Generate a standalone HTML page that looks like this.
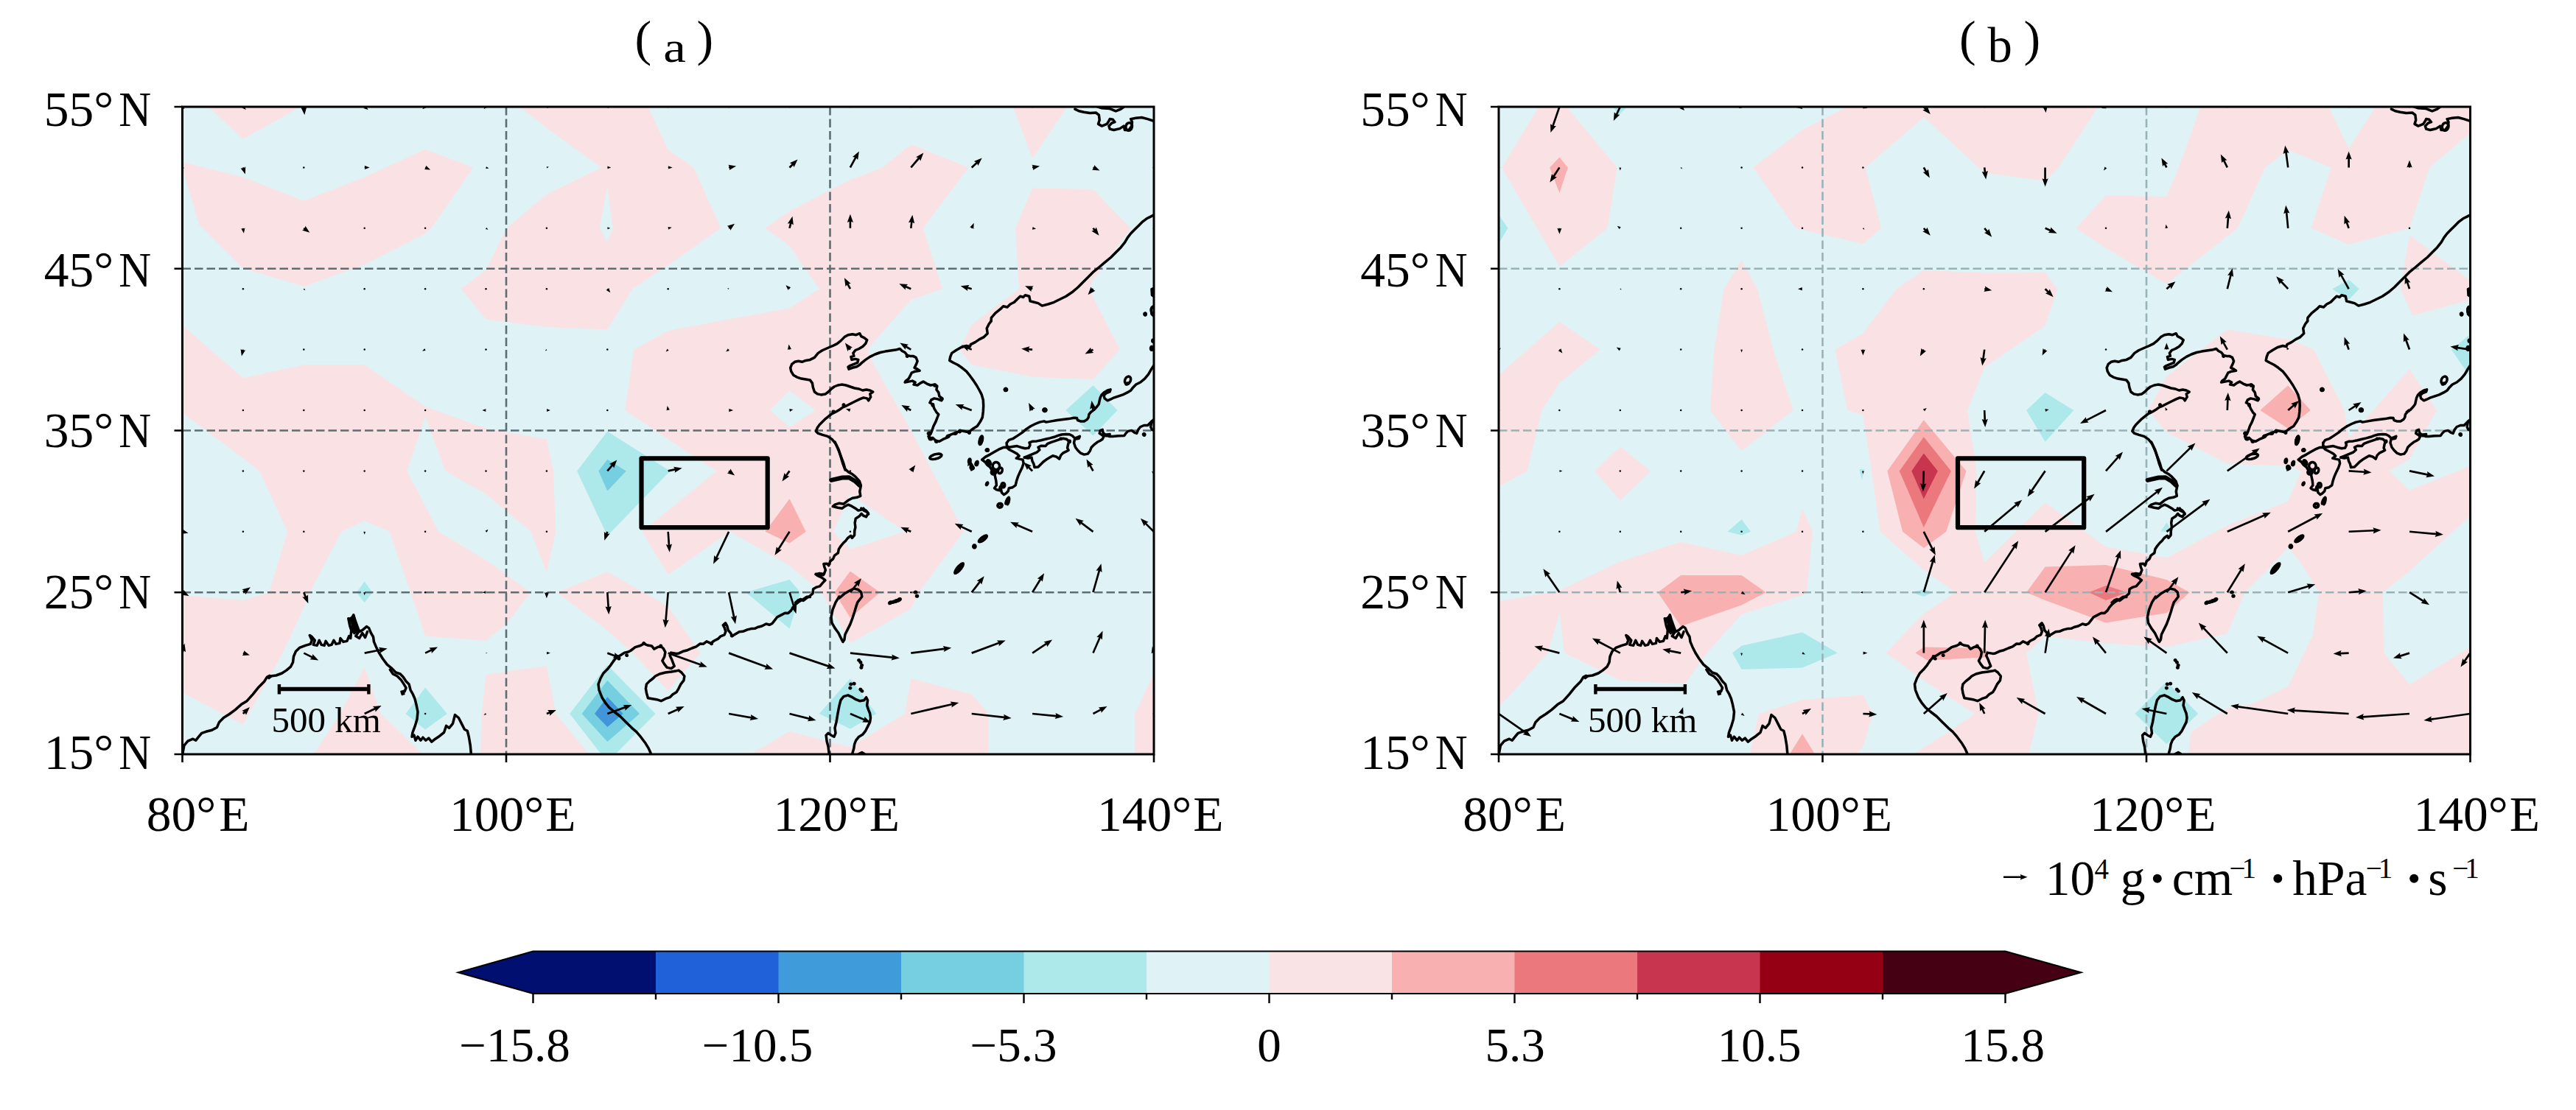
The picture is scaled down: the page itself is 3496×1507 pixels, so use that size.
<!DOCTYPE html>
<html><head><meta charset="utf-8"><title>fig</title>
<style>
html,body{margin:0;padding:0;background:#fff;}
svg{display:block;}
text{font-family:"Liberation Serif",serif;fill:#000;}
</style></head><body>
<svg width="3496" height="1507" viewBox="0 0 3496 1507">
<rect width="3496" height="1507" fill="#fff"/>
<clipPath id="clipa"><rect x="247.5" y="145.0" width="1318.5" height="879.0"/></clipPath>
<g clip-path="url(#clipa)">
<rect x="247.5" y="145.0" width="1318.5" height="879.0" fill="#dff2f6"/>
<path d="M282.9 145.0L329.9 188.7L408.2 145.0Z" fill="#fae2e4"/>
<path d="M247.5 220.0L329.9 240.6L412.3 272.7L494.7 240.6L577.1 202.7L642.2 227.4L585.3 309.8L577.1 317.2L494.7 359.2L412.3 388.9L329.9 364.2L270.6 305.7L247.5 229.0Z" fill="#fae2e4"/>
<path d="M247.5 441.6L329.9 513.3L412.3 495.2L494.7 495.2L577.1 552.1L659.5 581.7L741.9 596.6L751.0 639.4L754.3 721.8L741.9 777.0L720.5 721.8L659.5 670.7L604.3 639.4L577.1 565.2L552.4 639.4L595.2 721.8L659.5 760.5L720.5 804.2L687.5 847.0L659.5 870.1L577.1 863.5L557.3 804.2L528.5 721.8L494.7 707.0L463.4 721.8L420.5 804.2L412.3 824.8L383.5 886.6L329.9 983.8L247.5 940.2L247.5 808.3L329.9 814.9L365.3 804.2L390.1 721.8L352.1 639.4L329.9 622.1L247.5 560.3Z" fill="#fae2e4"/>
<path d="M494.7 905.6L516.9 969.0L573.8 1024.2L425.5 1024.2L461.7 969.0Z" fill="#fae2e4"/>
<path d="M659.5 915.4L741.9 903.9L754.3 969.0L799.6 1024.2L652.1 1024.2L653.7 969.0Z" fill="#fae2e4"/>
<path d="M824.3 776.2L906.7 823.2L950.4 886.6L906.7 937.7L858.9 886.6L824.3 856.1L755.5 804.2Z" fill="#fae2e4"/>
<path d="M1017.9 1024.2L1071.5 992.9L1153.9 1014.3L1228.1 969.0L1236.3 921.2L1318.7 942.6L1341.8 969.0L1341.8 1024.2Z" fill="#fae2e4"/>
<path d="M1565.9 913.8L1540.4 969.0L1540.4 1024.2L1565.9 1024.2Z" fill="#fae2e4"/>
<path d="M705.6 145.0L879.5 145.0L906.7 203.5L941.3 227.4L978.4 309.8L906.7 360.1L858.1 392.2L824.3 447.4L741.9 444.1L659.5 433.4L625.7 392.2L659.5 366.7L687.5 309.8L741.9 263.7L816.1 227.4L741.9 173.8Z" fill="#fae2e4"/>
<path d="M824.3 253.8L831.7 309.8L824.3 328.8L813.6 309.8Z" fill="#dff2f6"/>
<path d="M860.6 474.6L906.7 449.1L989.1 433.4L1071.5 418.6L1111.9 392.2L1071.5 333.7L1038.5 309.8L1071.5 286.7L1153.9 243.9L1197.6 227.4L1236.3 196.1L1314.6 227.4L1252.8 309.8L1279.1 392.2L1236.3 407.0L1177.0 474.6L1186.9 496.8L1236.3 584.2L1265.1 639.4L1308.0 721.8L1247.0 804.2L1236.3 826.4L1153.9 873.4L1115.2 804.2L1071.5 767.9L990.7 721.8L906.7 780.3L871.3 721.8L906.7 693.0L972.6 639.4L906.7 596.6L848.2 557.0Z" fill="#fae2e4"/>
<path d="M1153.9 670.7L1228.1 721.8L1153.9 745.7L1130.8 721.8Z" fill="#dff2f6"/>
<path d="M1071.5 530.6L1106.9 557.0L1071.5 580.1L1045.1 557.0Z" fill="#dff2f6"/>
<path d="M1071.5 677.3L1093.7 721.8L1071.5 737.5L1038.5 721.8Z" fill="#f8b1b0"/>
<path d="M1153.9 775.4L1194.3 804.2L1153.9 838.8L1132.5 804.2Z" fill="#f8b1b0"/>
<path d="M1401.1 255.4L1483.5 257.1L1534.6 309.8L1483.5 380.7L1477.7 392.2L1483.5 403.7L1519.8 474.6L1483.5 515.0L1401.1 511.7L1318.7 495.2L1302.2 474.6L1318.7 440.8L1383.0 392.2L1378.0 309.8Z" fill="#fae2e4"/>
<path d="M1374.7 145.0L1401.1 215.0L1448.1 145.0Z" fill="#fae2e4"/>
<path d="M824.3 585.8L909.2 639.4L824.3 727.6L783.1 639.4Z" fill="#ade8eb"/>
<path d="M824.3 623.7L849.8 639.4L824.3 666.6L812.4 639.4Z" fill="#75cfe0"/>
<path d="M1071.5 786.9L1086.3 804.2L1071.5 853.6L1012.2 804.2Z" fill="#ade8eb"/>
<path d="M1153.9 921.2L1189.3 969.0L1153.9 989.6L1111.9 969.0Z" fill="#ade8eb"/>
<path d="M824.3 903.1L889.4 969.0L824.3 1034.9L773.2 969.0Z" fill="#ade8eb"/>
<path d="M824.3 923.7L868.0 969.0L824.3 1006.9L789.7 969.0Z" fill="#75cfe0"/>
<path d="M824.3 945.9L845.7 969.0L824.3 987.1L807.0 969.0Z" fill="#4295d9"/>
<path d="M577.1 933.6L606.8 969.0L577.1 990.4L550.7 969.0Z" fill="#ade8eb"/>
<path d="M1483.5 523.2L1516.5 557.0L1483.5 591.6L1446.4 557.0Z" fill="#ade8eb"/>
<path d="M494.7 789.4L505.4 804.2L494.7 818.2L484.0 804.2Z" fill="#ade8eb"/>
<path d="M687.0 145.0V1024.0M1126.5 145.0V1024.0M247.5 804.2H1566.0M247.5 584.5H1566.0M247.5 364.8H1566.0" stroke="#5b6e74" stroke-width="2.6" stroke-dasharray="11.5 5" fill="none"/>
<g transform="translate(0.0,0)" fill="none" stroke="#000" stroke-width="3.5" stroke-linejoin="round" stroke-linecap="round">
<path d="M247.9 1023.0L249.9 1012.1L254.9 1006.2L261.8 1003.2L265.8 1005.2L269.7 1000.2L273.7 995.3L279.6 993.3L287.6 991.3L294.5 987.4L297.5 980.4L303.4 974.5L311.3 969.5L319.3 963.6L327.2 956.6L335.1 951.7L343.0 942.8L351.0 932.9L358.9 924.9L361.9 920.0L366.8 918.0L374.7 917.0L382.7 914.0L388.6 910.1L394.6 905.1L397.5 899.2L398.5 891.2L401.5 884.3L406.5 879.4L414.4 876.4L421.3 874.4L423.3 869.4L420.3 862.5L423.3 864.5L427.3 869.4L425.3 875.4L430.2 876.4L433.2 869.4L436.2 875.4L440.1 876.4L442.1 870.4L446.1 876.4L450.0 875.4L453.0 869.4L456.0 874.4L460.9 873.4L461.9 866.5L465.9 871.4L470.9 870.4L473.8 863.5L475.8 866.5L476.8 855.6L474.8 849.6L472.8 839.7L476.8 840.7L479.8 834.8L481.8 841.7L484.7 849.6L487.7 857.6L491.7 855.6L497.6 850.6L500.6 852.6L503.5 859.5L506.5 864.5L507.5 871.4L510.5 878.4L514.4 886.3L519.4 894.2L525.3 902.1L531.3 907.1L537.2 913.0L543.2 915.0L547.1 919.0L551.1 924.9L555.1 928.9L557.1 936.8L560.0 941.8L563.0 948.7L565.0 956.6L567.0 966.5L566.0 976.5L563.0 986.4L560.0 994.3L559.0 1000.2L562.0 998.2L564.0 1005.2L567.0 1000.2L570.9 1005.2L573.9 1001.2L577.9 1005.2L581.8 1002.2L585.8 1007.2L590.7 1003.2L596.7 999.2L602.6 994.3L605.6 985.4L609.6 988.3L614.5 982.4L617.5 970.5L622.4 974.5L626.4 982.4L630.4 990.3L634.3 992.3L636.3 1000.2L638.3 1012.1L639.3 1023.0"/>
<path d="M477.8 843.7L480.8 852.6L485.7 859.5L482.7 863.5L487.7 866.5L491.7 859.5L495.6 865.5L498.6 857.6"/>
<path d="M529.3 909.1L533.3 915.0L539.2 918.0L544.2 922.9L548.1 928.9L551.1 933.8L549.1 938.8"/>
<path d="M832.8 897.2L836.4 892.9L842.7 889.3L847.5 886.1L851.8 885.3L855.7 883.5L862.1 878.6L869.2 876.5L873.9 873.9L878.6 876.0L884.4 876.9L887.7 881.1L893.2 878.3L897.3 878.0L900.2 880.3L902.9 885.4L901.8 891.5L898.9 897.1L901.6 901.6L905.1 906.1L911.0 907.6L915.2 904.4L913.2 899.3L911.5 894.9L909.2 890.2L910.7 886.1L918.2 887.4L921.4 886.9L926.9 884.3L933.0 882.7L939.1 880.0L944.9 877.8L950.2 874.0L954.7 874.2L959.0 870.8L964.6 873.3L969.1 870.0L974.8 867.1L978.1 863.8L983.1 861.9L984.9 857.4L983.2 852.1L981.3 848.7L984.6 845.8L986.7 849.5L988.3 855.6L991.5 859.4L993.6 863.4L998.3 860.7L1003.3 857.7L1008.3 857.3L1014.2 854.9L1020.3 853.4L1024.4 853.3L1028.2 851.5L1034.0 850.0L1039.7 847.0L1044.2 848.3L1048.0 846.5L1051.4 842.2L1054.8 837.8L1059.9 835.1L1065.4 832.3L1069.7 832.4L1073.6 828.9L1076.2 824.6L1079.9 820.3L1085.0 816.4L1089.9 813.8L1095.1 810.2L1099.4 810.6"/>
<path d="M883.3 1023.0L880.3 1016.1L875.4 1008.2L869.4 1000.2L863.5 993.3L857.6 988.3L849.6 980.4L841.7 972.5L833.8 966.5L826.8 960.6L821.9 954.7L816.9 946.7L813.0 936.8L812.0 928.9L815.0 921.0L818.9 914.0L823.9 909.1L828.8 903.1L832.8 897.2"/>
<path d="M889.3 918.0L895.2 915.0L903.1 913.0L911.1 912.1L917.0 911.1L921.0 910.1L924.9 913.0L928.9 918.0L927.9 923.9L923.9 928.9L921.0 934.8L918.0 939.8L913.0 942.8L909.1 946.7L903.1 948.7L897.2 951.7L891.2 949.7L885.3 948.7L879.4 947.7L877.4 940.8L876.4 934.8L877.4 928.9L881.3 924.9L886.3 921.0L889.3 918.0"/>
<path d="M1125.1 1023.0L1124.1 1014.1L1122.1 1006.2L1121.1 998.2L1124.1 995.3L1128.0 998.2L1132.0 1000.2L1134.0 995.3L1133.0 988.3L1135.0 980.4L1137.0 968.5L1138.9 958.6L1140.9 950.7L1144.9 945.7L1150.8 943.8L1156.8 946.7L1161.7 949.7L1166.7 951.7L1172.6 950.7L1175.6 946.7L1177.6 950.7L1176.6 957.6L1178.6 963.6L1180.6 968.5L1181.5 974.5L1180.6 980.4L1177.6 986.4L1174.6 992.3L1170.6 997.3L1165.7 1000.2L1161.7 1005.2L1159.7 1010.1L1158.8 1016.1L1156.8 1023.0"/>
<path d="M1165.7 1023.6L1169.7 1021.6L1173.0 1023.6"/>
<path d="M1079.6 818.0L1082.8 815.2L1086.8 813.4L1090.3 815.5L1095.1 811.6L1098.7 809.5L1103.0 805.7L1103.6 799.8L1108.3 797.1L1112.7 795.9L1116.5 791.4L1119.9 787.7L1114.8 783.8L1109.3 781.4L1107.0 779.7L1112.3 778.4L1118.2 779.5L1120.4 773.9L1118.8 769.6L1117.9 765.6L1122.4 765.2L1124.8 767.8L1126.6 762.2L1130.6 758.9L1132.6 754.1L1137.3 750.8L1138.4 745.4L1141.3 741.1L1144.7 737.0L1147.7 734.2L1150.5 730.5L1154.7 727.4L1156.4 730.3L1159.6 726.5L1159.8 720.7L1160.9 715.9L1160.2 709.9L1161.3 703.9L1166.4 700.7L1169.1 697.4L1171.3 699.8L1175.4 701.7L1178.4 696.9L1175.5 693.3L1171.4 690.7"/>
<path d="M1171.8 690.2L1168.8 692.1L1164.8 693.1L1160.9 690.2L1155.9 687.2L1151.0 685.2L1147.0 687.2L1143.0 690.2L1137.1 689.2L1130.2 687.6L1133.1 685.2L1139.1 683.2L1145.0 684.2L1151.0 679.3L1156.9 676.3L1162.9 675.3L1167.8 673.3L1166.8 667.4L1168.4 659.4L1166.4 653.1L1160.9 647.2L1155.9 643.2L1151.0 640.6L1147.0 636.7L1145.0 629.7L1142.1 621.8L1139.1 613.9L1136.1 606.9L1133.1 600.0"/>
<path d="M1168.8 690.2L1172.4 693.1L1176.7 695.1L1178.7 698.1"/>
<path d="M1107.4 779.3L1111.3 780.7L1117.3 780.7"/>
<path d="M1163.7 817.9L1161.7 823.9L1159.7 830.8L1156.8 839.7L1153.8 847.6L1149.8 855.6L1146.9 861.5L1145.9 868.5L1143.9 871.4L1140.9 865.5L1138.0 859.5L1133.0 852.6L1129.0 845.7L1128.0 837.7L1130.0 827.8L1134.0 817.9L1138.9 810.0L1139.1 812.0L1146.0 806.1L1152.9 802.1L1158.9 799.1L1164.8 800.5L1168.8 804.1L1169.8 810.0L1163.7 817.9"/>
<path d="M1277.9 617.7L1277.5 619.2L1275.5 620.9L1272.5 622.3L1268.9 623.3L1265.5 623.6L1263.0 623.1L1261.8 622.0L1262.3 620.4L1264.2 618.8L1267.3 617.3L1270.9 616.4L1274.2 616.1L1276.7 616.5L1277.9 617.7"/>
<path d="M1359.0 686.4L1358.8 687.5L1358.1 688.4L1357.0 688.9L1355.9 688.9L1354.9 688.4L1354.1 687.5L1353.9 686.4L1354.1 685.3L1354.9 684.4L1355.9 683.9L1357.0 683.9L1358.1 684.4L1358.8 685.3L1359.0 686.4"/>
<path d="M1147.0 638.0L1144.0 630.0L1141.1 620.1L1138.1 610.2L1134.1 602.3L1129.2 596.4L1123.2 592.4L1116.3 590.4L1110.3 588.4L1107.4 585.5L1109.4 580.5L1112.3 576.5L1116.3 572.6L1120.3 568.6L1125.2 564.7L1129.2 561.7L1135.1 558.7L1140.1 555.7L1144.0 552.8L1149.0 550.8L1154.9 547.8L1160.9 544.8L1166.8 541.9L1171.8 539.9L1176.7 540.9L1178.7 543.8L1181.7 538.9L1180.7 534.9L1184.7 532.0L1180.7 530.0L1175.7 529.0L1170.8 530.0L1165.8 528.0L1159.9 527.0L1153.9 525.0L1148.0 523.0L1142.1 522.1L1137.1 523.0L1132.1 525.0L1128.2 528.0L1124.2 532.0L1120.3 534.9L1114.3 535.9L1109.4 534.9L1105.4 532.0L1103.4 526.0L1102.4 520.1L1099.4 516.1L1093.5 515.1L1087.6 514.1L1081.6 512.1L1076.7 509.2L1073.7 504.2L1072.7 499.3L1074.7 494.3L1078.6 491.3L1083.6 490.3L1088.5 491.3L1093.5 489.4L1099.4 488.4L1105.4 485.4L1110.3 479.4L1116.3 475.5L1123.2 472.5L1130.2 469.5L1136.1 466.6L1141.1 462.6L1146.0 457.6L1151.0 454.7L1156.9 453.7L1161.9 454.7L1166.8 452.7L1168.8 456.7L1172.8 458.6L1176.7 461.6L1174.7 466.6L1170.8 470.5L1165.8 473.5L1160.9 475.5L1157.9 479.4L1158.9 483.4L1154.9 484.4L1155.9 488.4L1160.9 487.4L1164.8 488.4L1163.8 492.3L1158.9 494.3L1153.9 496.3L1151.0 498.3L1152.0 501.2L1156.9 499.3L1162.9 497.7L1166.8 495.3L1169.8 492.3L1174.7 488.4L1180.7 484.4L1187.6 481.0L1194.6 478.5L1201.5 477.1L1208.4 476.1L1215.4 475.1L1221.3 473.5L1224.3 476.5L1228.2 478.5L1231.2 482.4L1235.2 483.4L1239.1 483.4L1243.1 485.4L1245.1 490.3L1243.1 495.3L1241.1 499.3L1245.1 501.2L1248.1 503.2L1242.1 504.2L1237.2 506.2L1235.2 510.2L1233.2 514.1L1229.2 517.1L1228.2 519.1L1233.2 518.1L1238.2 517.1L1242.1 519.1L1240.1 522.1L1245.1 523.0L1249.1 520.1L1253.0 518.1L1258.0 521.1L1262.9 523.0L1267.9 522.1L1271.8 524.0L1270.9 529.0L1273.8 532.9L1274.8 537.9L1278.8 540.9L1277.8 543.8L1272.8 541.9L1267.9 540.9L1263.9 542.9L1261.9 546.8L1265.9 548.8L1267.9 554.7L1270.9 559.7L1273.8 562.7L1271.8 567.6L1269.9 572.6L1266.9 578.5L1264.9 584.5L1262.9 589.4L1260.0 592.4L1261.9 596.4L1265.9 594.4L1269.9 598.3L1274.8 599.3L1279.8 596.4L1284.7 594.4L1289.7 590.4L1294.6 588.4L1299.6 586.5L1303.5 584.5L1308.5 585.5L1313.5 586.5L1317.4 584.5L1321.4 581.5L1326.3 578.5L1330.3 572.6L1333.3 566.6L1334.3 558.7L1334.7 550.8L1334.3 542.9L1332.3 535.9L1329.3 530.0L1325.3 523.0L1321.4 517.1L1316.4 510.2L1311.5 504.2L1305.5 499.3L1299.6 495.3L1293.6 492.3L1288.7 489.4L1289.7 484.4L1291.7 479.4L1297.6 475.5L1304.5 471.5L1311.5 469.5L1316.4 470.5L1317.4 467.6L1323.4 464.6L1329.3 460.6L1335.3 457.6L1340.2 452.7L1339.2 445.8L1342.2 439.8L1345.2 435.9"/>
<path d="M1366.3 601.3L1369.3 597.3L1375.2 595.3L1381.2 591.4L1387.1 587.4L1393.1 582.4L1399.0 578.5L1405.0 575.5L1410.9 573.1L1416.9 571.9L1419.8 573.1L1426.8 571.9L1434.7 570.5L1442.6 569.6L1450.6 568.6L1457.5 567.2L1461.5 567.6L1462.5 570.5L1466.4 571.9L1471.4 571.9L1475.3 569.6L1477.3 566.6L1477.9 562.6L1480.3 559.6L1484.3 556.7L1488.2 552.7L1491.2 548.7L1492.2 543.8L1493.2 539.8L1495.2 535.9L1498.1 532.9L1503.1 529.9L1507.1 528.9L1506.1 531.9L1501.1 533.9L1498.1 536.8L1499.1 540.8L1503.1 543.8L1507.1 542.2L1512.0 539.8L1518.0 537.8L1523.9 535.9L1529.9 532.9L1534.8 529.9L1537.8 525.9L1541.7 522.0L1547.7 519.0L1553.6 514.1L1558.6 508.1L1562.6 501.2L1565.9 496.2"/>
<path d="M1366.3 601.3L1366.3 605.2L1369.3 607.2L1375.2 606.2L1380.2 605.6L1385.1 607.2L1391.1 608.8L1396.0 608.2L1398.0 604.2L1397.0 600.9L1401.0 599.3L1407.0 598.9L1412.9 597.7L1418.8 596.3L1424.8 594.9L1430.7 593.3L1435.7 591.4L1440.7 590.0L1446.6 589.4L1451.6 589.8L1455.5 591.8L1458.5 594.9L1462.5 593.7L1465.4 592.4L1464.4 595.3L1458.5 596.3L1457.5 601.3L1459.5 607.2L1462.5 611.2L1466.4 615.1L1471.4 617.1L1476.3 616.1L1479.3 612.2L1481.3 607.2L1485.3 603.3L1489.2 600.3L1493.2 598.3L1496.2 596.3L1498.1 592.4L1495.2 590.4L1492.2 588.4L1493.2 584.4L1496.2 583.4L1497.1 587.4L1500.1 590.4L1506.1 589.4L1505.1 592.4L1510.0 592.4L1518.0 591.8L1525.9 591.4L1527.9 588.4L1530.8 585.4L1535.8 584.4L1539.8 587.4L1542.7 588.4L1544.7 583.4L1547.7 579.5L1552.6 577.5L1557.6 577.5L1560.6 574.5L1563.5 571.5L1565.9 569.6"/>
<path d="M1565.9 570.5L1562.6 574.5L1561.6 579.5L1563.5 583.4L1565.9 584.4"/>
<path d="M1390.1 621.1L1395.1 619.1L1401.0 616.7L1407.0 614.2L1410.9 610.8L1408.9 607.2L1412.9 605.2L1418.8 605.6L1421.8 602.3L1426.8 600.3L1432.7 598.3L1438.7 596.3L1442.6 595.3L1447.6 596.3L1450.6 599.3L1449.6 603.3L1448.6 608.2L1450.2 611.2L1446.6 613.2L1442.6 615.1L1439.7 618.1L1437.7 623.1L1433.7 620.1L1428.8 618.7L1424.8 621.1L1419.8 624.1L1415.9 627.0L1411.9 631.0L1408.9 634.0L1404.0 634.6L1403.0 630.0L1401.0 626.0L1400.0 621.1L1395.1 622.1L1390.1 621.1"/>
<path d="M1332.6 624.1L1337.6 620.1L1343.5 617.1L1349.5 613.6L1355.4 610.2L1361.4 607.6L1366.3 607.2L1369.3 610.2L1375.2 613.2L1380.2 616.1L1383.2 619.1L1379.2 622.1L1383.2 623.1L1388.1 624.1L1389.1 629.0L1387.1 635.0L1384.2 640.9L1381.6 646.9L1379.6 652.8L1378.2 658.8L1374.2 661.7L1369.3 662.7L1368.3 666.7L1365.3 669.7L1362.4 671.6L1359.4 668.7L1358.4 663.7L1360.4 658.8L1357.4 660.7L1356.4 665.7L1352.4 664.7L1349.5 662.7L1352.4 658.8L1351.8 652.8L1350.5 646.9L1349.5 641.9L1346.5 638.9L1343.5 634.0L1339.6 631.0L1336.6 627.0L1332.6 624.1"/>
<path d="M1356.6 632.6L1356.1 634.8L1354.8 636.6L1352.9 637.6L1350.8 637.6L1348.9 636.6L1347.6 634.8L1347.1 632.6L1347.6 630.4L1348.9 628.6L1350.8 627.6L1352.9 627.6L1354.8 628.6L1356.1 630.4L1356.6 632.6"/>
<path d="M1351.6 641.3L1351.3 642.5L1350.5 643.5L1349.2 644.0L1347.8 644.0L1346.5 643.5L1345.6 642.5L1345.3 641.3L1345.6 640.1L1346.5 639.1L1347.8 638.6L1349.2 638.6L1350.5 639.1L1351.3 640.1L1351.6 641.3"/>
<path d="M1360.0 639.9L1359.2 641.4L1358.0 642.4L1356.7 642.8L1355.5 642.4L1354.7 641.3L1354.5 639.7L1354.8 638.0L1355.6 636.5L1356.8 635.4L1358.1 635.1L1359.3 635.5L1360.1 636.6L1360.3 638.2L1360.0 639.9"/>
<path d="M1363.7 658.8L1363.5 660.1L1362.8 661.2L1361.9 661.8L1360.8 661.8L1359.9 661.2L1359.2 660.1L1359.0 658.8L1359.2 657.4L1359.9 656.3L1360.8 655.7L1361.9 655.7L1362.8 656.3L1363.5 657.4L1363.7 658.8"/>
<path d="M1360.2 686.1L1359.9 687.3L1359.1 688.3L1358.0 688.8L1356.8 688.8L1355.7 688.3L1354.9 687.3L1354.6 686.1L1354.9 684.9L1355.7 683.9L1356.8 683.4L1358.0 683.4L1359.1 683.9L1359.9 684.9L1360.2 686.1"/>
<path d="M1345.1 435.9L1345.4 431.4L1350.8 425.1L1357.6 419.7L1361.6 415.7L1367.0 417.0L1371.1 413.0L1376.5 410.3L1380.5 406.2L1384.6 402.2L1388.6 403.5L1391.4 400.8L1396.8 402.2L1398.1 408.9L1403.5 410.3L1408.9 411.6L1414.3 415.1L1422.4 413.0L1430.5 410.3L1438.6 406.2L1446.8 402.2L1454.9 396.8L1463.0 390.0L1469.7 383.2L1476.5 376.5L1483.2 369.7L1491.4 363.0L1499.5 356.2L1507.6 349.5L1514.3 342.7L1521.1 335.9L1526.5 329.2L1530.5 322.4L1534.6 317.0L1540.0 311.6L1545.4 306.2L1550.8 300.8L1556.2 296.8L1561.6 294.1L1565.9 291.9"/>
<path d="M1458.9 148.1L1464.3 150.8L1471.1 152.2L1479.2 153.5L1487.3 153.0L1491.4 156.2L1492.2 163.0L1490.5 168.4L1495.4 171.1L1502.2 168.4L1504.9 164.3L1506.2 161.6L1510.3 162.2L1513.0 165.7L1508.9 167.0L1504.9 171.1L1506.2 175.1L1511.6 176.5L1519.7 174.6L1525.1 171.1L1526.5 176.5L1531.9 176.5L1535.9 171.1L1536.5 165.7L1534.6 161.6L1541.4 160.3L1549.5 159.5L1557.6 161.6L1565.9 164.3"/>
<path d="M1484.6 143.2L1495.4 146.8L1506.2 147.6L1514.3 150.8L1521.1 148.1L1526.5 144.1"/>
<path d="M1536.3 173.0L1535.3 175.2L1533.7 176.7L1531.7 177.2L1529.9 176.7L1528.5 175.3L1527.8 173.1L1528.0 170.8L1529.0 168.6L1530.7 167.1L1532.6 166.6L1534.5 167.1L1535.9 168.5L1536.5 170.6L1536.3 173.0"/>
<path d="M1565.9 391.4L1563.0 392.7L1563.5 400.8L1565.9 402.2"/>
<path d="M1565.9 415.7L1562.4 419.7L1563.0 426.5L1565.9 429.2"/>
<path d="M1534.0 517.8L1532.6 519.8L1530.9 521.0L1529.1 521.3L1527.6 520.6L1526.6 519.0L1526.5 516.9L1527.1 514.6L1528.4 512.6L1530.2 511.4L1532.0 511.1L1533.5 511.8L1534.5 513.4L1534.6 515.5L1534.0 517.8"/>
<path d="M1567.6 421.1L1567.3 423.2L1566.5 424.9L1565.5 425.8L1564.3 425.8L1563.2 424.9L1562.4 423.2L1562.2 421.1L1562.4 419.0L1563.2 417.3L1564.3 416.3L1565.5 416.3L1566.5 417.3L1567.3 419.0L1567.6 421.1"/>
<path d="M1128.2 651.9L1143.0 648.5L1152.0 648.2L1160.9 653.5L1166.8 659.1" stroke-width="6"/>
</g>
<g transform="translate(0.0,0)" fill="#000" stroke="#000" stroke-width="2" stroke-linejoin="round">
<path d="M474.4 839.7L480.2 835.4L482.7 844.7L486.7 856.6L480.8 860.5L476.8 855.6L477.4 847.6Z"/>
<path d="M361.9 918.6L365.8 916.6L368.4 918.6L364.8 921.4Z"/>
<path d="M544.2 938.8L547.5 937.8L548.7 942.4L545.6 943.2Z"/>
<path d="M1156.3 929.4L1155.9 929.9L1155.4 930.3L1154.7 930.3L1154.0 930.0L1153.5 929.6L1153.2 929.0L1153.3 928.4L1153.7 927.8L1154.2 927.5L1154.9 927.5L1155.6 927.7L1156.1 928.2L1156.3 928.8L1156.3 929.4Z"/>
<path d="M1160.6 928.6L1160.3 929.2L1159.7 929.5L1159.0 929.5L1158.4 929.3L1157.9 928.8L1157.6 928.2L1157.7 927.6L1158.0 927.0L1158.6 926.7L1159.3 926.7L1159.9 927.0L1160.5 927.4L1160.7 928.0L1160.6 928.6Z"/>
<path d="M1155.3 934.6L1154.9 935.1L1154.4 935.4L1153.7 935.4L1153.0 935.2L1152.5 934.7L1152.3 934.1L1152.3 933.5L1152.7 933.0L1153.2 932.7L1153.9 932.7L1154.6 932.9L1155.1 933.4L1155.4 934.0L1155.3 934.6Z"/>
<path d="M1169.4 936.6L1169.0 937.1L1168.4 937.4L1167.7 937.4L1167.1 937.2L1166.6 936.7L1166.3 936.1L1166.4 935.5L1166.7 935.0L1167.3 934.7L1168.0 934.6L1168.7 934.9L1169.2 935.3L1169.4 936.0L1169.4 936.6Z"/>
<path d="M1171.3 938.7L1171.0 939.3L1170.4 939.6L1169.7 939.6L1169.1 939.4L1168.6 938.9L1168.3 938.3L1168.4 937.7L1168.7 937.2L1169.3 936.9L1170.0 936.8L1170.6 937.1L1171.2 937.5L1171.4 938.1L1171.3 938.7Z"/>
<path d="M1167.2 896.9L1166.8 897.5L1166.2 897.8L1165.6 897.8L1164.9 897.5L1164.4 897.1L1164.1 896.5L1164.2 895.9L1164.6 895.3L1165.1 895.0L1165.8 895.0L1166.5 895.2L1167.0 895.7L1167.2 896.3L1167.2 896.9Z"/>
<path d="M1169.4 899.7L1169.0 900.2L1168.4 900.5L1167.7 900.6L1167.1 900.3L1166.6 899.9L1166.3 899.2L1166.4 898.6L1166.7 898.1L1167.3 897.8L1168.0 897.8L1168.7 898.0L1169.2 898.5L1169.4 899.1L1169.4 899.7Z"/>
<path d="M1171.1 903.7L1170.8 904.2L1170.2 904.5L1169.5 904.5L1168.9 904.3L1168.4 903.8L1168.1 903.2L1168.2 902.6L1168.5 902.1L1169.1 901.8L1169.8 901.7L1170.4 902.0L1171.0 902.5L1171.2 903.1L1171.1 903.7Z"/>
<path d="M1170.4 906.8L1170.0 907.4L1169.4 907.7L1168.7 907.7L1168.1 907.5L1167.6 907.0L1167.3 906.4L1167.4 905.8L1167.7 905.3L1168.3 904.9L1169.0 904.9L1169.7 905.2L1170.2 905.6L1170.4 906.2L1170.4 906.8Z"/>
<path d="M839.2 891.8L838.9 892.3L838.3 892.6L837.6 892.6L836.9 892.4L836.4 891.9L836.2 891.3L836.3 890.7L836.6 890.2L837.2 889.9L837.9 889.9L838.5 890.1L839.0 890.6L839.3 891.2L839.2 891.8Z"/>
<path d="M852.1 890.2L851.8 890.7L851.2 891.0L850.5 891.1L849.8 890.8L849.3 890.3L849.1 889.7L849.1 889.1L849.5 888.6L850.1 888.3L850.8 888.3L851.4 888.5L851.9 889.0L852.2 889.6L852.1 890.2Z"/>
<path d="M875.3 874.0L874.9 874.5L874.4 874.8L873.7 874.8L873.0 874.6L872.5 874.1L872.3 873.5L872.3 872.9L872.7 872.4L873.2 872.1L873.9 872.0L874.6 872.3L875.1 872.7L875.4 873.3L875.3 874.0Z"/>
<path d="M898.3 877.5L897.9 878.0L897.4 878.3L896.7 878.4L896.0 878.1L895.5 877.7L895.2 877.1L895.3 876.4L895.7 875.9L896.2 875.6L896.9 875.6L897.6 875.8L898.1 876.3L898.3 876.9L898.3 877.5Z"/>
<path d="M985.9 848.2L985.5 848.7L984.9 849.0L984.2 849.0L983.6 848.8L983.1 848.3L982.8 847.7L982.9 847.1L983.2 846.6L983.8 846.3L984.5 846.3L985.2 846.5L985.7 847.0L985.9 847.6L985.9 848.2Z"/>
<path d="M994.8 863.6L994.4 864.2L993.9 864.5L993.2 864.5L992.5 864.3L992.0 863.8L991.7 863.2L991.8 862.6L992.2 862.1L992.7 861.7L993.4 861.7L994.1 862.0L994.6 862.4L994.8 863.0L994.8 863.6Z"/>
<path d="M967.0 874.3L966.7 874.9L966.1 875.2L965.4 875.2L964.8 875.0L964.3 874.5L964.0 873.9L964.1 873.3L964.4 872.8L965.0 872.4L965.7 872.4L966.3 872.7L966.9 873.1L967.1 873.7L967.0 874.3Z"/>
<path d="M841.2 894.8L840.9 895.3L840.3 895.6L839.6 895.6L838.9 895.4L838.4 894.9L838.2 894.3L838.2 893.7L838.6 893.2L839.2 892.9L839.9 892.8L840.5 893.1L841.0 893.5L841.3 894.1L841.2 894.8Z"/>
<path d="M1210.5 817.0L1210.7 817.8L1210.4 818.7L1209.7 819.5L1208.7 820.1L1207.6 820.3L1206.7 820.2L1206.1 819.6L1205.9 818.8L1206.2 817.9L1206.9 817.1L1207.9 816.5L1209.0 816.3L1209.9 816.5L1210.5 817.0Z"/>
<path d="M1218.5 814.7L1218.6 815.5L1218.3 816.3L1217.6 817.2L1216.6 817.7L1215.5 818.0L1214.6 817.8L1214.0 817.2L1213.8 816.4L1214.1 815.5L1214.9 814.7L1215.8 814.2L1216.9 813.9L1217.8 814.1L1218.5 814.7Z"/>
<path d="M1222.8 812.7L1223.0 813.5L1222.7 814.4L1221.9 815.2L1221.0 815.8L1219.9 816.0L1219.0 815.8L1218.4 815.3L1218.2 814.5L1218.5 813.6L1219.2 812.7L1220.2 812.2L1221.3 812.0L1222.2 812.1L1222.8 812.7Z"/>
<path d="M1339.7 726.6L1340.0 728.0L1339.1 730.0L1337.2 732.2L1334.8 734.3L1332.3 735.7L1330.1 736.2L1328.8 735.8L1328.6 734.4L1329.5 732.4L1331.3 730.1L1333.7 728.1L1336.3 726.7L1338.4 726.1L1339.7 726.6Z"/>
<path d="M1324.8 741.9L1324.5 743.1L1323.9 744.0L1322.9 744.6L1321.8 744.6L1320.9 744.0L1320.2 743.1L1320.0 741.9L1320.2 740.7L1320.9 739.7L1321.8 739.2L1322.9 739.2L1323.9 739.7L1324.5 740.7L1324.8 741.9Z"/>
<path d="M1307.7 764.3L1308.1 765.9L1307.3 768.7L1305.3 772.0L1302.6 775.2L1299.7 777.7L1297.1 779.1L1295.5 778.9L1295.0 777.3L1295.9 774.6L1297.8 771.2L1300.6 768.0L1303.5 765.5L1306.0 764.2L1307.7 764.3Z"/>
<path d="M1369.3 674.6L1369.8 675.5L1369.7 677.1L1369.1 679.3L1368.0 681.5L1366.8 683.4L1365.5 684.5L1364.6 684.7L1364.1 683.9L1364.2 682.2L1364.9 680.0L1365.9 677.8L1367.2 675.9L1368.4 674.8L1369.3 674.6Z"/>
<path d="M1244.5 804.1L1244.3 804.8L1243.8 805.3L1243.0 805.6L1242.1 805.6L1241.3 805.3L1240.7 804.8L1240.5 804.1L1240.7 803.4L1241.3 802.9L1242.1 802.6L1243.0 802.6L1243.8 802.9L1244.3 803.4L1244.5 804.1Z"/>
<path d="M1246.3 809.3L1246.1 809.9L1245.6 810.5L1244.9 810.8L1244.1 810.8L1243.4 810.5L1242.9 809.9L1242.7 809.3L1242.9 808.6L1243.4 808.0L1244.1 807.7L1244.9 807.7L1245.6 808.0L1246.1 808.6L1246.3 809.3Z"/>
<path d="M1215.4 816.2L1215.4 817.0L1214.8 817.8L1213.9 818.4L1212.7 818.8L1211.6 818.9L1210.7 818.7L1210.2 818.1L1210.2 817.4L1210.7 816.6L1211.7 815.9L1212.8 815.5L1214.0 815.4L1214.9 815.7L1215.4 816.2Z"/>
<path d="M1220.8 814.0L1220.9 814.7L1220.6 815.5L1220.0 816.3L1219.1 816.8L1218.1 817.0L1217.2 816.9L1216.7 816.4L1216.5 815.7L1216.8 814.9L1217.5 814.1L1218.4 813.6L1219.4 813.4L1220.2 813.5L1220.8 814.0Z"/>
<path d="M1317.8 626.1L1317.3 627.6L1316.6 628.7L1315.7 629.3L1314.8 629.1L1314.1 628.3L1313.8 627.0L1313.9 625.4L1314.3 623.9L1315.1 622.8L1316.0 622.3L1316.9 622.4L1317.5 623.2L1317.9 624.5L1317.8 626.1Z"/>
<path d="M1321.2 634.1L1320.9 635.1L1320.3 635.9L1319.3 636.4L1318.3 636.4L1317.3 635.9L1316.7 635.1L1316.4 634.1L1316.7 633.1L1317.3 632.2L1318.3 631.8L1319.3 631.8L1320.3 632.2L1320.9 633.1L1321.2 634.1Z"/>
<path d="M1327.2 630.8L1326.7 631.7L1325.9 632.3L1325.0 632.4L1324.1 632.1L1323.5 631.4L1323.3 630.5L1323.5 629.4L1324.0 628.5L1324.8 628.0L1325.7 627.8L1326.6 628.1L1327.1 628.8L1327.4 629.8L1327.2 630.8Z"/>
<path d="M1342.0 610.9L1341.8 611.7L1341.3 612.3L1340.6 612.6L1339.8 612.6L1339.1 612.3L1338.6 611.7L1338.4 610.9L1338.6 610.1L1339.1 609.5L1339.8 609.2L1340.6 609.2L1341.3 609.5L1341.8 610.1L1342.0 610.9Z"/>
<path d="M1132.9 559.1L1132.8 559.9L1132.3 560.5L1131.5 560.8L1130.8 560.8L1130.0 560.5L1129.5 559.9L1129.4 559.1L1129.5 558.3L1130.0 557.7L1130.8 557.4L1131.5 557.4L1132.3 557.7L1132.8 558.3L1132.9 559.1Z"/>
<path d="M1146.6 549.8L1146.5 550.5L1146.0 551.0L1145.4 551.3L1144.7 551.3L1144.0 551.0L1143.6 550.5L1143.4 549.8L1143.6 549.1L1144.0 548.6L1144.7 548.2L1145.4 548.2L1146.0 548.6L1146.5 549.1L1146.6 549.8Z"/>
<path d="M1263.3 588.4L1263.1 589.3L1262.4 590.0L1261.5 590.4L1260.4 590.4L1259.5 590.0L1258.8 589.3L1258.6 588.4L1258.8 587.6L1259.5 586.9L1260.4 586.5L1261.5 586.5L1262.4 586.9L1263.1 587.6L1263.3 588.4Z"/>
<path d="M1265.5 596.3L1265.0 597.0L1264.0 597.4L1262.8 597.4L1261.7 597.0L1260.8 596.2L1260.3 595.3L1260.3 594.4L1260.9 593.7L1261.8 593.3L1263.0 593.3L1264.2 593.8L1265.1 594.5L1265.6 595.4L1265.5 596.3Z"/>
<path d="M1272.8 599.3L1272.6 600.0L1272.1 600.6L1271.3 600.9L1270.4 600.9L1269.6 600.6L1269.1 600.0L1268.9 599.3L1269.1 598.6L1269.6 598.1L1270.4 597.8L1271.3 597.8L1272.1 598.1L1272.6 598.6L1272.8 599.3Z"/>
<path d="M1289.1 591.0L1289.3 591.8L1288.9 592.7L1288.1 593.6L1287.0 594.2L1285.9 594.5L1284.9 594.3L1284.3 593.8L1284.2 593.0L1284.5 592.1L1285.3 591.2L1286.4 590.6L1287.5 590.3L1288.5 590.5L1289.1 591.0Z"/>
<path d="M1298.8 587.6L1298.9 588.3L1298.4 589.1L1297.6 589.7L1296.6 590.1L1295.6 590.1L1294.8 589.8L1294.4 589.2L1294.4 588.5L1294.8 587.8L1295.6 587.2L1296.6 586.8L1297.6 586.8L1298.4 587.1L1298.8 587.6Z"/>
<path d="M1304.1 585.5L1304.0 586.3L1303.5 587.0L1302.9 587.4L1302.2 587.4L1301.6 587.0L1301.1 586.3L1301.0 585.5L1301.1 584.6L1301.6 583.9L1302.2 583.5L1302.9 583.5L1303.5 583.9L1304.0 584.6L1304.1 585.5Z"/>
<path d="M1317.0 587.4L1316.9 588.1L1316.4 588.7L1315.8 589.0L1315.1 589.0L1314.5 588.7L1314.0 588.1L1313.9 587.4L1314.0 586.8L1314.5 586.2L1315.1 585.9L1315.8 585.9L1316.4 586.2L1316.9 586.8L1317.0 587.4Z"/>
<path d="M1333.8 598.4L1332.8 601.2L1331.5 603.3L1330.1 604.2L1329.0 603.9L1328.4 602.4L1328.3 600.0L1328.8 597.1L1329.8 594.3L1331.1 592.2L1332.4 591.3L1333.5 591.6L1334.2 593.1L1334.3 595.5L1333.8 598.4Z"/>
<path d="M1342.0 611.2L1341.8 612.0L1341.3 612.6L1340.6 613.0L1339.8 613.0L1339.1 612.6L1338.6 612.0L1338.4 611.2L1338.6 610.4L1339.1 609.8L1339.8 609.5L1340.6 609.5L1341.3 609.8L1341.8 610.4L1342.0 611.2Z"/>
<path d="M1367.2 529.0L1366.9 529.9L1366.3 530.7L1365.5 531.1L1364.5 531.1L1363.6 530.7L1363.0 529.9L1362.8 529.0L1363.0 528.0L1363.6 527.3L1364.5 526.9L1365.5 526.9L1366.3 527.3L1366.9 528.0L1367.2 529.0Z"/>
<path d="M1420.5 556.7L1420.2 557.8L1419.6 558.6L1418.6 559.0L1417.6 559.0L1416.6 558.6L1415.9 557.8L1415.7 556.7L1415.9 555.7L1416.6 554.9L1417.6 554.4L1418.6 554.4L1419.6 554.9L1420.2 555.7L1420.5 556.7Z"/>
<path d="M1270.9 523.0L1270.7 523.8L1270.1 524.4L1269.3 524.8L1268.4 524.8L1267.6 524.4L1267.1 523.8L1266.9 523.0L1267.1 522.3L1267.6 521.6L1268.4 521.3L1269.3 521.3L1270.1 521.6L1270.7 522.3L1270.9 523.0Z"/>
<path d="M1232.8 483.4L1232.6 484.1L1232.2 484.6L1231.6 485.0L1230.9 485.0L1230.2 484.6L1229.8 484.1L1229.6 483.4L1229.8 482.7L1230.2 482.2L1230.9 481.9L1231.6 481.9L1232.2 482.2L1232.6 482.7L1232.8 483.4Z"/>
<path d="M1267.5 549.8L1267.3 550.7L1266.9 551.3L1266.3 551.7L1265.5 551.7L1264.9 551.3L1264.5 550.7L1264.3 549.8L1264.5 548.9L1264.9 548.2L1265.5 547.9L1266.3 547.9L1266.9 548.2L1267.3 548.9L1267.5 549.8Z"/>
<path d="M1279.8 541.9L1279.6 542.6L1279.0 543.1L1278.2 543.4L1277.3 543.4L1276.6 543.1L1276.0 542.6L1275.8 541.9L1276.0 541.2L1276.6 540.6L1277.3 540.3L1278.2 540.3L1279.0 540.6L1279.6 541.2L1279.8 541.9Z"/>
<path d="M1333.6 598.2L1332.8 600.8L1331.7 602.9L1330.5 603.9L1329.4 603.6L1328.7 602.2L1328.6 600.0L1328.9 597.2L1329.7 594.6L1330.8 592.5L1332.0 591.5L1333.0 591.8L1333.7 593.2L1333.9 595.5L1333.6 598.2Z"/>
<path d="M1341.7 611.2L1341.5 612.0L1340.9 612.7L1340.0 613.1L1339.1 613.1L1338.2 612.7L1337.6 612.0L1337.4 611.2L1337.6 610.3L1338.2 609.6L1339.1 609.3L1340.0 609.3L1340.9 609.6L1341.5 610.3L1341.7 611.2Z"/>
<path d="M1327.5 629.3L1326.9 630.5L1326.0 631.4L1325.0 631.7L1324.2 631.4L1323.7 630.5L1323.5 629.3L1323.8 627.9L1324.5 626.7L1325.4 625.9L1326.3 625.6L1327.2 625.9L1327.7 626.7L1327.8 627.9L1327.5 629.3Z"/>
<path d="M1322.1 635.4L1321.8 636.4L1321.1 637.2L1320.0 637.7L1318.7 637.7L1317.6 637.2L1316.8 636.4L1316.6 635.4L1316.8 634.3L1317.6 633.5L1318.7 633.0L1320.0 633.0L1321.1 633.5L1321.8 634.3L1322.1 635.4Z"/>
<path d="M1341.0 657.4L1340.3 658.5L1339.5 659.2L1338.7 659.4L1338.1 659.1L1337.7 658.3L1337.8 657.3L1338.1 656.1L1338.8 655.1L1339.6 654.4L1340.4 654.2L1341.0 654.5L1341.4 655.2L1341.4 656.3L1341.0 657.4Z"/>
<path d="M1370.0 680.5L1369.4 682.9L1368.5 684.6L1367.6 685.5L1366.8 685.4L1366.3 684.2L1366.2 682.2L1366.6 679.8L1367.2 677.5L1368.1 675.7L1369.0 674.8L1369.8 675.0L1370.3 676.2L1370.4 678.1L1370.0 680.5Z"/>
<path d="M1339.5 727.6L1339.6 729.0L1338.5 730.9L1336.5 733.0L1333.9 734.8L1331.2 736.0L1329.0 736.4L1327.8 735.8L1327.7 734.4L1328.7 732.5L1330.8 730.4L1333.4 728.6L1336.0 727.4L1338.2 727.0L1339.5 727.6Z"/>
<path d="M1420.6 556.7L1420.4 557.8L1419.6 558.7L1418.5 559.2L1417.2 559.2L1416.1 558.7L1415.4 557.8L1415.1 556.7L1415.4 555.6L1416.1 554.7L1417.2 554.2L1418.5 554.2L1419.6 554.7L1420.4 555.6L1420.6 556.7Z"/>
<path d="M1367.3 528.9L1367.1 530.0L1366.4 530.8L1365.5 531.2L1364.4 531.2L1363.4 530.8L1362.8 530.0L1362.5 528.9L1362.8 527.9L1363.4 527.1L1364.4 526.6L1365.5 526.6L1366.4 527.1L1367.1 527.9L1367.3 528.9Z"/>
<path d="M1554.6 589.8L1554.4 590.5L1553.9 591.2L1553.1 591.5L1552.2 591.5L1551.4 591.2L1550.9 590.5L1550.7 589.8L1550.9 589.0L1551.4 588.4L1552.2 588.0L1553.1 588.0L1553.9 588.4L1554.4 589.0L1554.6 589.8Z"/>
<path d="M1504.9 591.0L1504.6 591.7L1503.8 592.2L1502.7 592.5L1501.5 592.5L1500.4 592.2L1499.6 591.7L1499.3 591.0L1499.6 590.3L1500.4 589.7L1501.5 589.4L1502.7 589.4L1503.8 589.7L1504.6 590.3L1504.9 591.0Z"/>
<path d="M1532.5 520.0L1532.4 520.8L1531.9 521.6L1531.0 522.2L1529.8 522.7L1528.6 522.7L1527.7 522.5L1527.2 521.9L1527.3 521.2L1527.8 520.4L1528.7 519.7L1529.9 519.3L1531.1 519.2L1532.0 519.5L1532.5 520.0Z"/>
<path d="M1344.3 626.6L1345.0 628.4L1345.1 630.1L1344.6 631.4L1343.5 632.0L1342.1 631.8L1340.7 630.9L1339.5 629.4L1338.8 627.6L1338.7 625.9L1339.3 624.7L1340.3 624.0L1341.7 624.2L1343.2 625.1L1344.3 626.6Z"/>
<path d="M1453.1 599.3L1453.0 600.1L1452.5 600.8L1451.9 601.2L1451.2 601.2L1450.6 600.8L1450.1 600.1L1450.0 599.3L1450.1 598.4L1450.6 597.7L1451.2 597.4L1451.9 597.4L1452.5 597.7L1453.0 598.4L1453.1 599.3Z"/>
<path d="M1441.2 595.7L1441.1 596.3L1440.6 596.8L1440.0 597.1L1439.3 597.1L1438.7 596.8L1438.2 596.3L1438.1 595.7L1438.2 595.1L1438.7 594.6L1439.3 594.4L1440.0 594.4L1440.6 594.6L1441.1 595.1L1441.2 595.7Z"/>
<path d="M1555.9 426.5L1555.8 427.4L1555.3 428.2L1554.7 428.6L1554.0 428.6L1553.3 428.2L1552.9 427.4L1552.7 426.5L1552.9 425.5L1553.3 424.8L1554.0 424.4L1554.7 424.4L1555.3 424.8L1555.8 425.5L1555.9 426.5Z"/>
<path d="M1555.9 426.5L1555.8 427.4L1555.2 428.2L1554.5 428.6L1553.6 428.6L1552.9 428.2L1552.3 427.4L1552.2 426.5L1552.3 425.5L1552.9 424.8L1553.6 424.4L1554.5 424.4L1555.2 424.8L1555.8 425.5L1555.9 426.5Z"/>
<path d="M1565.1 473.0L1564.9 474.4L1564.3 475.5L1563.5 476.1L1562.5 476.1L1561.6 475.5L1561.0 474.4L1560.8 473.0L1561.0 471.6L1561.6 470.4L1562.5 469.8L1563.5 469.8L1564.3 470.4L1564.9 471.6L1565.1 473.0Z"/>
<path d="M1565.7 462.7L1565.5 463.6L1565.2 464.4L1564.6 464.8L1564.0 464.8L1563.5 464.4L1563.1 463.6L1563.0 462.7L1563.1 461.8L1563.5 461.0L1564.0 460.6L1564.6 460.6L1565.2 461.0L1565.5 461.8L1565.7 462.7Z"/>
<path d="M1554.3 590.5L1554.2 591.1L1553.8 591.6L1553.3 591.9L1552.7 591.9L1552.1 591.6L1551.8 591.1L1551.6 590.5L1551.8 590.0L1552.1 589.5L1552.7 589.2L1553.3 589.2L1553.8 589.5L1554.2 590.0L1554.3 590.5Z"/>
</g>
<g fill="#000">
<polygon points="247.1,145.4 247.4,145.7 246.4,146.1 250.5,148.0 248.6,143.9 248.2,144.9 247.9,144.6"/>
<polygon points="246.8,227.4 246.8,228.0 245.3,227.4 247.5,233.4 249.7,227.4 248.2,228.0 248.2,227.4"/>
<circle cx="247.5" cy="309.8" r="1.25"/>
<circle cx="247.5" cy="392.2" r="1.25"/>
<circle cx="247.5" cy="474.6" r="1.25"/>
<circle cx="247.5" cy="557.0" r="1.25"/>
<circle cx="247.5" cy="639.4" r="1.25"/>
<polygon points="247.3,722.8 248.0,723.0 246.8,724.8 255.5,723.8 248.2,718.8 248.5,721.0 247.7,720.8"/>
<polygon points="246.9,805.3 247.8,805.8 245.6,807.5 256.5,809.2 249.4,800.9 249.0,803.6 248.1,803.1"/>
<polygon points="248.8,886.9 249.6,883.6 252.0,885.3 250.5,873.6 244.0,883.5 246.9,883.0 246.2,886.3"/>
<circle cx="247.5" cy="969.0" r="1.25"/>
<polygon points="329.4,145.5 329.8,145.9 328.4,146.5 333.9,149.0 331.4,143.5 330.8,144.9 330.4,144.5"/>
<polygon points="328.8,227.8 329.1,228.6 326.6,228.5 332.9,236.4 333.2,226.3 331.3,227.9 331.0,227.0"/>
<polygon points="329.0,309.9 329.1,310.6 327.3,310.2 330.9,316.8 332.5,309.4 330.9,310.4 330.8,309.7"/>
<circle cx="329.9" cy="392.2" r="1.25"/>
<polygon points="328.8,474.4 328.6,475.2 326.6,473.9 327.9,483.6 333.2,475.3 330.8,475.7 331.0,474.8"/>
<circle cx="329.9" cy="557.0" r="1.25"/>
<circle cx="329.9" cy="639.4" r="1.25"/>
<circle cx="329.9" cy="721.8" r="1.25"/>
<polygon points="330.7,805.3 332.5,804.0 333.2,806.9 339.9,797.2 328.5,800.2 330.9,801.8 329.1,803.1"/>
<polygon points="329.5,887.7 330.4,888.0 328.8,889.9 338.9,889.6 331.0,883.3 331.1,885.8 330.3,885.5"/>
<polygon points="330.9,970.0 332.8,968.0 334.0,970.7 338.9,960.0 328.2,964.9 330.9,966.1 328.9,968.0"/>
<polygon points="411.0,145.1 411.1,146.2 408.2,145.4 413.3,156.0 416.4,144.6 413.7,146.0 413.6,144.9"/>
<circle cx="412.3" cy="227.4" r="1.25"/>
<polygon points="411.6,310.8 412.3,311.4 410.1,312.8 420.3,315.8 414.5,306.8 413.8,309.4 413.0,308.8"/>
<polygon points="412.1,392.4 412.3,392.6 411.6,392.9 414.3,394.2 413.0,391.5 412.7,392.2 412.5,392.0"/>
<circle cx="412.3" cy="474.6" r="1.25"/>
<circle cx="412.3" cy="557.0" r="1.25"/>
<circle cx="412.3" cy="639.4" r="1.25"/>
<circle cx="412.3" cy="721.8" r="1.25"/>
<polygon points="411.0,804.7 413.3,810.4 410.4,810.5 418.3,819.2 418.0,807.4 415.8,809.4 413.6,803.7"/>
<polygon points="411.7,887.8 422.8,893.3 420.6,895.3 432.3,896.6 424.2,888.0 424.0,890.9 412.9,885.4"/>
<circle cx="412.3" cy="969.0" r="1.25"/>
<polygon points="494.2,145.6 494.7,146.0 493.2,146.9 499.7,149.0 496.2,143.1 495.7,144.8 495.2,144.4"/>
<polygon points="494.7,228.3 495.4,228.3 494.7,230.0 501.7,227.4 494.7,224.8 495.4,226.5 494.7,226.5"/>
<circle cx="494.7" cy="309.8" r="1.25"/>
<circle cx="494.7" cy="392.2" r="1.25"/>
<circle cx="494.7" cy="474.6" r="1.25"/>
<circle cx="494.7" cy="557.0" r="1.25"/>
<circle cx="494.7" cy="639.4" r="1.25"/>
<polygon points="494.2,721.8 494.2,722.2 493.2,721.8 494.7,725.8 496.2,721.8 495.2,722.2 495.2,721.8"/>
<polygon points="494.2,804.2 494.2,804.6 493.2,804.2 494.7,808.2 496.2,804.2 495.2,804.6 495.2,804.2"/>
<polygon points="495.0,887.9 516.1,883.8 515.6,886.7 525.7,880.6 514.0,878.7 515.6,881.2 494.4,885.3"/>
<polygon points="495.3,970.2 509.3,963.5 509.5,966.5 517.7,958.0 505.9,959.1 508.1,961.1 494.1,967.8"/>
<polygon points="576.7,144.5 576.3,144.8 576.0,143.5 573.1,148.0 578.2,146.5 577.1,145.8 577.5,145.5"/>
<polygon points="576.7,228.3 577.4,228.5 576.0,230.0 584.1,230.4 578.2,224.8 578.1,226.8 577.5,226.5"/>
<circle cx="577.1" cy="309.8" r="1.25"/>
<circle cx="577.1" cy="392.2" r="1.25"/>
<polygon points="576.9,474.1 576.5,474.3 576.4,473.1 573.1,476.6 577.8,476.1 577.0,475.3 577.3,475.1"/>
<circle cx="577.1" cy="557.0" r="1.25"/>
<circle cx="577.1" cy="639.4" r="1.25"/>
<circle cx="577.1" cy="721.8" r="1.25"/>
<circle cx="577.1" cy="804.2" r="1.25"/>
<polygon points="577.7,887.8 585.6,884.1 585.8,887.0 594.1,878.6 582.3,879.6 584.5,881.6 576.5,885.4"/>
<circle cx="577.1" cy="969.0" r="1.25"/>
<polygon points="659.1,144.6 658.8,144.9 658.4,143.9 656.5,148.0 660.6,146.1 659.6,145.7 659.9,145.4"/>
<polygon points="659.4,227.9 659.8,228.0 659.1,228.9 663.5,228.4 659.9,225.9 660.0,227.0 659.6,226.9"/>
<polygon points="659.3,310.2 659.5,310.4 658.8,310.9 662.5,311.8 660.2,308.7 660.0,309.6 659.7,309.4"/>
<circle cx="659.5" cy="392.2" r="1.25"/>
<circle cx="659.5" cy="474.6" r="1.25"/>
<polygon points="659.5,556.4 659.0,556.4 659.5,555.1 654.5,557.0 659.5,558.9 659.0,557.6 659.5,557.6"/>
<circle cx="659.5" cy="639.4" r="1.25"/>
<polygon points="659.9,722.2 660.2,721.9 660.6,722.9 662.5,718.8 658.4,720.7 659.4,721.1 659.1,721.4"/>
<polygon points="659.5,803.6 659.0,803.6 659.5,802.3 654.5,804.2 659.5,806.1 659.0,804.8 659.5,804.8"/>
<polygon points="659.5,886.8 659.7,886.8 659.5,887.3 661.5,886.6 659.5,885.9 659.7,886.4 659.5,886.4"/>
<polygon points="659.3,968.6 659.0,968.8 658.8,967.9 656.5,971.0 660.2,970.1 659.5,969.6 659.7,969.4"/>
<polygon points="741.7,145.2 741.9,145.4 741.2,145.7 743.9,147.0 742.6,144.3 742.3,145.0 742.1,144.8"/>
<polygon points="742.0,227.8 742.3,227.7 742.3,228.5 744.9,226.4 741.5,226.3 742.1,226.9 741.8,227.0"/>
<circle cx="741.9" cy="309.8" r="1.25"/>
<circle cx="741.9" cy="392.2" r="1.25"/>
<polygon points="741.7,474.4 741.5,474.6 741.2,473.9 739.9,476.6 742.6,475.3 741.9,475.0 742.1,474.8"/>
<polygon points="741.9,557.6 742.4,557.6 741.9,558.9 746.9,557.0 741.9,555.1 742.4,556.4 741.9,556.4"/>
<circle cx="741.9" cy="639.4" r="1.25"/>
<circle cx="741.9" cy="721.8" r="1.25"/>
<polygon points="740.9,804.2 740.9,805.0 738.9,804.2 741.9,812.2 744.9,804.2 742.9,805.0 742.9,804.2"/>
<polygon points="741.9,887.2 742.4,887.2 741.9,888.5 746.9,886.6 741.9,884.7 742.4,886.0 741.9,886.0"/>
<polygon points="742.4,970.3 746.1,968.8 746.0,971.8 754.9,964.0 743.1,964.1 745.1,966.3 741.4,967.7"/>
<polygon points="824.1,145.2 824.3,145.4 823.6,145.7 826.3,147.0 825.0,144.3 824.7,145.0 824.5,144.8"/>
<polygon points="824.3,228.0 824.8,228.0 824.3,229.3 829.3,227.4 824.3,225.5 824.8,226.8 824.3,226.8"/>
<polygon points="824.3,310.3 824.7,310.3 824.3,311.3 828.3,309.8 824.3,308.3 824.7,309.3 824.3,309.3"/>
<polygon points="823.7,392.7 824.1,393.2 822.4,393.7 828.3,397.2 826.2,390.7 825.3,392.2 824.9,391.7"/>
<circle cx="824.3" cy="474.6" r="1.25"/>
<circle cx="824.3" cy="557.0" r="1.25"/>
<polygon points="825.3,640.3 831.8,632.8 833.2,635.5 837.3,624.4 826.9,630.1 829.7,631.1 823.3,638.5"/>
<polygon points="823.0,721.4 822.2,723.9 819.9,722.0 820.3,733.8 827.7,724.6 824.7,724.7 825.6,722.2"/>
<polygon points="823.0,804.3 824.3,824.3 821.5,823.4 826.3,834.2 829.7,822.9 827.0,824.1 825.6,804.1"/>
<polygon points="823.8,887.9 833.5,891.4 831.5,893.6 843.3,893.6 834.3,885.9 834.4,888.9 824.8,885.3"/>
<polygon points="824.8,970.3 848.4,961.7 848.3,964.7 857.3,957.0 845.5,956.9 847.5,959.1 823.8,967.7"/>
<circle cx="906.7" cy="145.0" r="1.25"/>
<polygon points="906.7,228.1 907.3,228.1 906.7,229.6 912.7,227.4 906.7,225.2 907.3,226.7 906.7,226.7"/>
<polygon points="906.8,310.4 907.3,310.3 907.1,311.7 911.7,308.8 906.3,307.9 907.1,309.1 906.6,309.2"/>
<circle cx="906.7" cy="392.2" r="1.25"/>
<polygon points="906.3,474.2 906.0,474.5 905.6,473.5 903.7,477.6 907.8,475.7 906.8,475.3 907.1,475.0"/>
<polygon points="907.4,556.9 907.3,556.3 908.9,556.6 905.7,551.0 904.5,557.4 905.9,556.5 906.0,557.1"/>
<polygon points="907.0,640.7 916.2,638.8 915.7,641.7 925.7,635.4 914.0,633.7 915.6,636.1 906.4,638.1"/>
<polygon points="905.4,721.9 906.6,739.9 903.8,739.1 908.7,749.8 912.0,738.5 909.3,739.7 908.0,721.7"/>
<polygon points="905.4,804.1 902.2,842.1 899.5,840.8 902.7,852.2 907.7,841.5 904.9,842.4 908.0,804.3"/>
<polygon points="906.2,887.9 949.8,903.5 947.9,905.7 959.7,905.6 950.7,898.0 950.8,901.0 907.2,885.3"/>
<polygon points="907.3,970.2 920.2,964.4 920.3,967.3 928.7,959.0 916.9,959.8 919.0,961.9 906.1,967.8"/>
<circle cx="989.1" cy="145.0" r="1.25"/>
<polygon points="989.3,228.6 990.3,228.4 989.8,231.1 999.1,225.4 988.4,223.7 989.8,226.0 988.9,226.2"/>
<polygon points="989.8,310.8 990.6,310.2 991.3,312.8 997.1,303.8 986.9,306.8 989.1,308.2 988.4,308.8"/>
<polygon points="989.2,392.0 989.0,391.9 989.5,391.5 987.1,391.2 988.7,392.9 988.8,392.3 989.0,392.4"/>
<polygon points="988.7,474.1 988.3,474.4 988.0,473.1 985.1,477.6 990.2,476.1 989.1,475.4 989.5,475.1"/>
<polygon points="989.1,557.7 989.7,557.7 989.1,559.2 995.1,557.0 989.1,554.8 989.7,556.3 989.1,556.3"/>
<polygon points="988.4,640.4 989.1,641.0 986.9,642.4 997.1,645.4 991.3,636.4 990.6,639.0 989.8,638.4"/>
<polygon points="987.9,721.2 971.2,756.2 969.2,754.0 968.1,765.8 976.6,757.6 973.6,757.4 990.3,722.4"/>
<polygon points="987.8,804.5 994.7,837.7 991.8,837.2 998.1,847.2 999.9,835.5 997.4,837.1 990.4,803.9"/>
<polygon points="988.6,887.9 1039.3,906.4 1037.3,908.7 1049.1,908.6 1040.1,900.9 1040.2,903.9 989.6,885.3"/>
<polygon points="988.9,970.3 1019.0,975.6 1017.5,978.1 1029.1,976.0 1018.9,970.0 1019.5,972.9 989.3,967.7"/>
<circle cx="1071.5" cy="145.0" r="1.25"/>
<polygon points="1072.5,228.4 1076.4,224.4 1077.6,227.1 1082.5,216.4 1071.8,221.3 1074.5,222.5 1070.5,226.4"/>
<polygon points="1072.8,310.1 1074.4,303.8 1076.8,305.5 1075.5,293.8 1068.8,303.5 1071.8,303.2 1070.2,309.5"/>
<polygon points="1072.1,391.6 1071.6,391.1 1073.4,390.3 1066.5,387.2 1069.6,394.1 1070.4,392.3 1070.9,392.8"/>
<polygon points="1072.4,474.5 1072.3,473.8 1074.1,474.2 1070.5,467.6 1068.9,475.0 1070.5,474.0 1070.6,474.7"/>
<polygon points="1071.6,557.6 1072.1,557.5 1071.9,558.9 1076.5,556.0 1071.1,555.1 1071.9,556.3 1071.4,556.4"/>
<polygon points="1070.4,638.6 1066.2,644.5 1064.6,642.0 1061.5,653.4 1071.3,646.8 1068.4,646.1 1072.6,640.2"/>
<polygon points="1070.4,721.1 1055.6,744.6 1053.9,742.2 1051.5,753.8 1060.9,746.6 1057.9,746.0 1072.6,722.5"/>
<polygon points="1070.2,804.6 1076.2,824.1 1073.3,823.8 1080.5,833.2 1081.2,821.4 1078.8,823.3 1072.8,803.8"/>
<polygon points="1071.1,887.9 1123.6,905.7 1121.7,907.9 1133.5,907.6 1124.3,900.1 1124.5,903.1 1071.9,885.3"/>
<polygon points="1071.2,970.3 1097.5,976.9 1095.8,979.3 1107.5,978.0 1097.8,971.3 1098.1,974.3 1071.8,967.7"/>
<circle cx="1153.9" cy="145.0" r="1.25"/>
<polygon points="1155.1,228.0 1162.3,214.8 1164.2,217.1 1165.9,205.4 1157.0,213.1 1159.9,213.5 1152.7,226.8"/>
<polygon points="1155.2,309.8 1155.2,300.8 1158.0,301.9 1153.9,290.8 1149.8,301.9 1152.6,300.8 1152.6,309.8"/>
<polygon points="1155.1,391.6 1151.8,385.4 1154.7,385.0 1145.9,377.2 1147.5,388.9 1149.4,386.7 1152.7,392.8"/>
<polygon points="1155.0,473.8 1154.1,472.7 1156.9,471.8 1146.9,465.6 1150.4,476.9 1152.0,474.3 1152.8,475.4"/>
<polygon points="1154.1,556.3 1153.6,556.1 1154.6,554.8 1147.9,555.0 1153.2,559.2 1153.1,557.5 1153.7,557.7"/>
<circle cx="1153.9" cy="639.4" r="1.25"/>
<circle cx="1153.9" cy="721.8" r="1.25"/>
<polygon points="1155.0,805.0 1163.8,793.9 1165.3,796.4 1168.9,785.2 1158.8,791.3 1161.7,792.2 1152.8,803.4"/>
<polygon points="1153.8,887.9 1210.8,893.9 1209.5,896.5 1220.9,893.6 1210.3,888.4 1211.1,891.2 1154.0,885.3"/>
<polygon points="1153.4,970.2 1172.2,978.3 1170.1,980.4 1181.9,981.0 1173.3,972.9 1173.2,975.8 1154.4,967.8"/>
<circle cx="1236.3" cy="145.0" r="1.25"/>
<polygon points="1237.3,228.3 1247.9,215.9 1249.3,218.5 1253.3,207.4 1243.0,213.2 1245.8,214.1 1235.3,226.5"/>
<polygon points="1237.6,309.9 1238.5,301.9 1241.2,303.3 1238.3,291.8 1233.0,302.3 1235.9,301.6 1235.0,309.7"/>
<polygon points="1236.8,391.0 1230.0,388.0 1232.1,385.9 1220.3,385.2 1228.8,393.4 1228.9,390.4 1235.8,393.4"/>
<polygon points="1237.0,473.4 1230.6,469.6 1232.9,467.8 1221.3,465.6 1228.7,474.8 1229.2,471.9 1235.6,475.8"/>
<polygon points="1236.9,555.8 1232.7,553.5 1235.0,551.6 1223.3,550.0 1231.1,558.9 1231.5,555.9 1235.7,558.2"/>
<polygon points="1237.3,640.1 1237.9,639.4 1239.3,641.6 1242.3,631.4 1233.3,637.2 1235.9,637.9 1235.3,638.7"/>
<polygon points="1236.8,720.6 1232.0,718.5 1234.1,716.4 1222.3,715.8 1230.9,723.9 1231.0,721.0 1235.8,723.0"/>
<circle cx="1236.3" cy="804.2" r="1.25"/>
<polygon points="1236.5,887.9 1281.6,882.2 1280.8,885.1 1291.3,879.6 1279.8,876.9 1281.2,879.5 1236.1,885.3"/>
<polygon points="1236.6,970.3 1291.9,957.6 1291.4,960.5 1301.3,954.0 1289.6,952.5 1291.3,954.9 1236.0,967.7"/>
<circle cx="1318.7" cy="145.0" r="1.25"/>
<polygon points="1319.6,228.4 1326.3,222.2 1327.4,224.9 1332.7,214.4 1321.8,218.9 1324.5,220.2 1317.8,226.4"/>
<polygon points="1319.6,310.2 1319.8,309.5 1321.3,310.9 1321.7,302.8 1316.1,308.7 1318.1,308.8 1317.8,309.4"/>
<polygon points="1319.0,390.9 1313.7,389.5 1315.5,387.1 1303.7,388.2 1313.3,395.0 1313.0,392.1 1318.4,393.5"/>
<polygon points="1319.2,473.4 1314.4,471.3 1316.5,469.2 1304.7,468.6 1313.3,476.7 1313.4,473.8 1318.2,475.8"/>
<polygon points="1319.2,555.7 1306.5,551.1 1308.5,548.9 1296.7,549.0 1305.7,556.7 1305.6,553.7 1318.2,558.3"/>
<polygon points="1320.0,639.1 1318.2,630.9 1321.1,631.3 1314.7,621.4 1313.1,633.1 1315.5,631.4 1317.4,639.7"/>
<polygon points="1319.3,720.6 1305.3,713.9 1307.5,711.9 1295.7,710.8 1303.9,719.3 1304.1,716.3 1318.1,723.0"/>
<polygon points="1319.8,805.0 1330.7,790.9 1332.2,793.5 1335.7,782.2 1325.7,788.4 1328.5,789.3 1317.6,803.4"/>
<polygon points="1319.2,887.9 1355.8,874.3 1355.7,877.3 1364.7,869.6 1352.9,869.6 1354.9,871.8 1318.2,885.3"/>
<polygon points="1318.6,970.3 1362.6,975.2 1361.2,977.9 1372.7,975.0 1362.2,969.7 1362.9,972.6 1318.8,967.7"/>
<circle cx="1401.1" cy="145.0" r="1.25"/>
<polygon points="1401.3,228.6 1402.3,228.4 1401.8,231.1 1411.1,225.4 1400.4,223.7 1401.8,226.0 1400.9,226.2"/>
<polygon points="1401.0,310.4 1401.5,310.5 1400.7,311.7 1406.1,310.8 1401.5,307.9 1401.7,309.3 1401.2,309.2"/>
<polygon points="1401.6,391.0 1400.6,390.6 1402.6,388.5 1391.1,388.2 1399.6,395.9 1399.6,393.0 1400.6,393.4"/>
<polygon points="1401.2,473.3 1396.2,472.9 1397.4,470.2 1386.1,473.6 1396.9,478.4 1396.0,475.6 1401.0,475.9"/>
<polygon points="1402.3,556.4 1401.8,555.3 1404.7,555.1 1396.1,547.0 1397.4,558.7 1399.4,556.5 1399.9,557.6"/>
<polygon points="1402.1,638.4 1397.1,633.5 1399.8,632.3 1389.1,627.4 1394.0,638.1 1395.2,635.4 1400.1,640.4"/>
<polygon points="1401.6,720.6 1380.8,711.5 1382.9,709.4 1371.1,708.8 1379.6,717.0 1379.7,714.0 1400.6,723.0"/>
<polygon points="1402.2,804.9 1413.0,787.4 1414.8,789.8 1417.1,778.2 1407.8,785.5 1410.7,786.0 1400.0,803.5"/>
<polygon points="1401.8,887.7 1420.5,875.3 1421.2,878.2 1428.1,868.6 1416.6,871.3 1419.0,873.0 1400.4,885.5"/>
<polygon points="1401.0,970.3 1433.0,973.4 1431.7,976.0 1443.1,973.0 1432.5,967.9 1433.3,970.7 1401.2,967.7"/>
<circle cx="1483.5" cy="145.0" r="1.25"/>
<polygon points="1483.0,228.5 1483.9,228.9 1482.0,230.7 1492.5,231.4 1485.0,224.1 1484.9,226.7 1484.0,226.3"/>
<polygon points="1482.4,310.6 1484.2,312.8 1481.4,313.7 1491.5,319.8 1487.8,308.6 1486.3,311.2 1484.6,309.0"/>
<polygon points="1482.5,391.3 1481.8,392.1 1480.5,389.6 1476.5,400.2 1486.5,394.8 1483.8,393.8 1484.5,393.1"/>
<polygon points="1482.9,473.4 1480.6,474.6 1480.2,471.7 1472.5,480.6 1484.2,478.9 1481.9,477.0 1484.1,475.8"/>
<polygon points="1484.8,556.8 1484.4,553.7 1487.3,554.3 1481.5,544.0 1479.1,555.6 1481.7,554.1 1482.2,557.2"/>
<polygon points="1484.7,638.7 1480.6,631.4 1483.5,631.0 1474.5,623.4 1476.3,635.1 1478.2,632.8 1482.3,640.1"/>
<polygon points="1484.3,720.7 1468.3,708.7 1470.8,707.1 1459.5,703.8 1465.9,713.7 1466.7,710.9 1482.7,722.9"/>
<polygon points="1484.8,804.6 1493.1,775.2 1495.5,777.0 1494.5,765.2 1487.5,774.7 1490.5,774.4 1482.2,803.8"/>
<polygon points="1484.7,887.1 1493.8,866.3 1495.9,868.4 1496.5,856.6 1488.3,865.1 1491.3,865.2 1482.3,886.1"/>
<polygon points="1484.1,970.2 1494.3,964.8 1494.6,967.8 1502.5,959.0 1490.8,960.5 1493.0,962.5 1482.9,967.8"/>
<circle cx="1565.9" cy="145.0" r="1.25"/>
<circle cx="1565.9" cy="227.4" r="1.25"/>
<circle cx="1565.9" cy="309.8" r="1.25"/>
<circle cx="1565.9" cy="392.2" r="1.25"/>
<polygon points="1565.3,474.6 1565.3,475.1 1564.0,474.6 1565.9,479.6 1567.8,474.6 1566.5,475.1 1566.5,474.6"/>
<circle cx="1565.9" cy="557.0" r="1.25"/>
<polygon points="1564.9,639.6 1565.1,640.4 1562.9,640.1 1567.9,647.4 1568.9,638.7 1567.1,639.9 1566.9,639.2"/>
<polygon points="1566.9,720.8 1555.9,709.9 1558.6,708.7 1547.9,703.8 1552.8,714.5 1554.0,711.8 1564.9,722.8"/>
<circle cx="1565.9" cy="804.2" r="1.25"/>
<polygon points="1567.0,886.4 1566.8,885.5 1569.2,885.9 1563.9,877.6 1562.6,887.3 1564.6,886.0 1564.8,886.8"/>
<circle cx="1565.9" cy="969.0" r="1.25"/>
</g>
<rect x="870.5" y="622.3" width="171.2" height="93.9" fill="none" stroke="#000" stroke-width="6.2" stroke-linejoin="round"/>
<path d="M378.9 935.4H500.4" stroke="#000" stroke-width="5.5"/>
<path d="M378.9 929V942.4M500.4 929V942.4" stroke="#000" stroke-width="4.4"/>
<text x="368.6" y="993.5" font-size="49" >500 km</text>
</g>
<rect x="247.5" y="145.0" width="1318.5" height="879.0" fill="none" stroke="#000" stroke-width="3"/>
<path d="M247.5 1024.0v11M687.0 1024.0v11M1126.5 1024.0v11M1566.0 1024.0v11M247.5 1024.0h-11M247.5 804.2h-11M247.5 584.5h-11M247.5 364.8h-11M247.5 145.0h-11" stroke="#000" stroke-width="2.6" fill="none"/>
<clipPath id="clipb"><rect x="2034.0" y="145.0" width="1318.5" height="879.0"/></clipPath>
<g clip-path="url(#clipb)">
<rect x="2034.0" y="145.0" width="1318.5" height="879.0" fill="#dff2f6"/>
<path d="M2088.4 145.0L2126.3 145.0L2194.7 227.4L2181.5 309.8L2116.4 361.7L2038.1 227.4Z" fill="#fae2e4"/>
<path d="M2116.4 213.4L2127.9 227.4L2116.4 262.0L2103.2 227.4Z" fill="#f8b1b0"/>
<path d="M2034.0 291.7L2046.4 309.8L2034.0 330.4Z" fill="#ade8eb"/>
<path d="M2189.7 145.0L2208.7 145.0L2196.3 156.5Z" fill="#ade8eb"/>
<path d="M2507.0 145.0L2847.3 145.0L2793.7 227.4L2775.6 245.5L2693.2 234.8L2610.8 159.0L2531.7 227.4L2553.1 309.8L2528.4 331.2L2436.9 309.8L2379.3 227.4L2446.0 176.3Z" fill="#fae2e4"/>
<path d="M2817.6 309.8L2858.0 265.3L2940.4 267.0L2956.9 227.4L2986.5 145.0L3160.4 145.0L3187.6 201.9L3223.9 145.0L3352.4 145.0L3352.4 180.4L3297.2 227.4L3270.0 309.8L3187.6 332.0L3136.5 309.8L3163.7 227.4L3105.2 203.5L3073.9 227.4L3036.8 309.8L3022.8 320.5L2940.4 385.6L2858.0 337.0Z" fill="#fae2e4"/>
<path d="M3270.0 318.9L3352.4 380.7L3352.4 407.0L3274.1 428.5L3257.6 392.2Z" fill="#fae2e4"/>
<path d="M3187.6 379.8L3201.6 392.2L3187.6 407.0L3165.4 392.2Z" fill="#ade8eb"/>
<path d="M3352.4 454.0L3326.9 474.6L3352.4 511.7Z" fill="#ade8eb"/>
<path d="M2363.6 353.5L2385.0 392.2L2406.4 474.6L2433.6 557.0L2363.6 612.2L2320.8 557.0L2326.5 474.6L2339.7 392.2Z" fill="#fae2e4"/>
<path d="M2034.0 509.2L2116.4 436.7L2171.6 474.6L2116.4 519.9L2092.5 557.0L2072.7 639.4L2034.0 660.8Z" fill="#fae2e4"/>
<path d="M2198.8 606.4L2240.0 639.4L2198.8 679.8L2164.2 639.4Z" fill="#fae2e4"/>
<path d="M2363.6 705.3L2376.0 721.8L2363.6 726.7L2344.6 721.8Z" fill="#ade8eb"/>
<path d="M2034.0 816.6L2116.4 801.7L2198.8 762.2L2281.2 735.8L2363.6 753.9L2437.8 721.8L2446.0 690.5L2460.0 721.8L2451.8 804.2L2446.0 808.3L2363.6 833.9L2316.6 886.6L2287.0 928.6L2198.8 923.7L2123.0 886.6L2116.4 832.2L2100.7 886.6L2034.0 960.8Z" fill="#fae2e4"/>
<path d="M2249.9 804.2L2281.2 781.1L2363.6 781.1L2396.6 804.2L2363.6 821.5L2281.2 850.3Z" fill="#f8b1b0"/>
<path d="M2351.2 886.6L2363.6 876.7L2446.0 858.6L2493.8 886.6L2446.0 906.4L2363.6 908.8Z" fill="#ade8eb"/>
<path d="M2375.1 1024.2L2386.7 969.0L2446.0 950.0L2528.4 943.5L2541.6 969.0L2528.4 1013.5L2520.2 1024.2Z" fill="#fae2e4"/>
<path d="M2428.7 1024.2L2446.0 996.2L2463.3 1024.2Z" fill="#f8b1b0"/>
<path d="M2610.8 366.7L2693.2 370.4L2775.6 370.0L2792.1 392.2L2775.6 442.5L2693.2 498.5L2670.1 557.0L2682.5 639.4L2680.8 721.8L2693.2 763.8L2775.6 682.2L2858.0 742.4L2940.4 757.2L3022.8 713.6L3105.2 680.6L3123.3 639.4L3105.2 632.8L3022.8 629.5L2940.4 586.7L2915.7 557.0L2940.4 510.9L3022.8 447.4L3105.2 460.6L3139.8 474.6L3181.8 557.0L3187.6 594.9L3270.0 501.0L3307.1 557.0L3270.0 622.9L3242.8 639.4L3270.0 665.8L3352.4 632.8L3352.4 700.4L3270.0 775.4L3233.7 804.2L3235.4 886.6L3270.0 929.4L3352.4 878.4L3352.4 1024.2L2970.1 1024.2L2973.4 993.7L3022.8 961.6L3054.1 956.6L3105.2 931.9L3139.0 861.9L3147.2 804.2L3120.0 760.5L3105.2 743.2L3073.9 777.0L3046.7 804.2L3022.8 860.2L2940.4 878.4L2858.0 873.4L2775.6 863.5L2750.1 886.6L2766.5 969.0L2753.4 1024.2L2596.0 1024.2L2639.6 997.0L2680.0 969.0L2610.8 923.7L2559.7 886.6L2610.8 833.0L2653.6 804.2L2610.8 773.7L2551.5 721.8L2539.9 639.4L2528.4 563.6L2507.0 557.0L2490.5 474.6L2528.4 452.4L2573.7 392.2Z" fill="#fae2e4"/>
<path d="M2610.8 570.2L2668.5 639.4L2641.3 721.8L2610.8 744.0L2582.0 721.8L2561.4 639.4Z" fill="#f8b1b0"/>
<path d="M2610.8 593.3L2647.9 639.4L2610.8 716.0L2577.8 639.4Z" fill="#ea787d"/>
<path d="M2610.8 615.5L2629.8 639.4L2610.8 677.3L2594.3 639.4Z" fill="#c8354f"/>
<path d="M2775.6 533.1L2814.3 557.0L2775.6 599.8L2750.1 557.0Z" fill="#ade8eb"/>
<path d="M3105.2 523.2L3135.7 557.0L3105.2 581.7L3067.3 557.0Z" fill="#f8b1b0"/>
<path d="M2750.1 804.2L2775.6 769.6L2858.0 767.1L2940.4 786.9L2971.7 804.2L2940.4 832.2L2858.0 845.4L2775.6 814.9Z" fill="#f8b1b0"/>
<path d="M2834.9 804.2L2858.0 795.1L2886.8 804.2L2858.0 814.9Z" fill="#ea787d"/>
<path d="M2599.3 886.6L2610.8 878.4L2693.2 880.0L2699.8 886.6L2693.2 892.4L2615.7 896.5Z" fill="#f8b1b0"/>
<path d="M2940.4 925.3L2983.2 969.0L2940.4 1010.2L2897.6 969.0Z" fill="#ade8eb"/>
<path d="M2594.3 804.2L2610.8 800.1L2623.2 804.2L2610.8 810.0Z" fill="#ade8eb"/>
<path d="M2523.5 636.9L2530.0 636.9L2526.8 651.8Z" fill="#ade8eb"/>
<path d="M2932.2 721.8L2940.4 709.4L2948.6 721.8Z" fill="#ade8eb"/>
<path d="M2473.5 145.0V1024.0M2913.0 145.0V1024.0M2034.0 804.2H3352.5M2034.0 584.5H3352.5M2034.0 364.8H3352.5" stroke="#98b3b8" stroke-width="2.6" stroke-dasharray="11.5 5" fill="none"/>
<g transform="translate(1786.5,0)" fill="none" stroke="#000" stroke-width="3.5" stroke-linejoin="round" stroke-linecap="round">
<path d="M247.9 1023.0L249.9 1012.1L254.9 1006.2L261.8 1003.2L265.8 1005.2L269.7 1000.2L273.7 995.3L279.6 993.3L287.6 991.3L294.5 987.4L297.5 980.4L303.4 974.5L311.3 969.5L319.3 963.6L327.2 956.6L335.1 951.7L343.0 942.8L351.0 932.9L358.9 924.9L361.9 920.0L366.8 918.0L374.7 917.0L382.7 914.0L388.6 910.1L394.6 905.1L397.5 899.2L398.5 891.2L401.5 884.3L406.5 879.4L414.4 876.4L421.3 874.4L423.3 869.4L420.3 862.5L423.3 864.5L427.3 869.4L425.3 875.4L430.2 876.4L433.2 869.4L436.2 875.4L440.1 876.4L442.1 870.4L446.1 876.4L450.0 875.4L453.0 869.4L456.0 874.4L460.9 873.4L461.9 866.5L465.9 871.4L470.9 870.4L473.8 863.5L475.8 866.5L476.8 855.6L474.8 849.6L472.8 839.7L476.8 840.7L479.8 834.8L481.8 841.7L484.7 849.6L487.7 857.6L491.7 855.6L497.6 850.6L500.6 852.6L503.5 859.5L506.5 864.5L507.5 871.4L510.5 878.4L514.4 886.3L519.4 894.2L525.3 902.1L531.3 907.1L537.2 913.0L543.2 915.0L547.1 919.0L551.1 924.9L555.1 928.9L557.1 936.8L560.0 941.8L563.0 948.7L565.0 956.6L567.0 966.5L566.0 976.5L563.0 986.4L560.0 994.3L559.0 1000.2L562.0 998.2L564.0 1005.2L567.0 1000.2L570.9 1005.2L573.9 1001.2L577.9 1005.2L581.8 1002.2L585.8 1007.2L590.7 1003.2L596.7 999.2L602.6 994.3L605.6 985.4L609.6 988.3L614.5 982.4L617.5 970.5L622.4 974.5L626.4 982.4L630.4 990.3L634.3 992.3L636.3 1000.2L638.3 1012.1L639.3 1023.0"/>
<path d="M477.8 843.7L480.8 852.6L485.7 859.5L482.7 863.5L487.7 866.5L491.7 859.5L495.6 865.5L498.6 857.6"/>
<path d="M529.3 909.1L533.3 915.0L539.2 918.0L544.2 922.9L548.1 928.9L551.1 933.8L549.1 938.8"/>
<path d="M832.8 897.2L836.4 892.9L842.7 889.3L847.5 886.1L851.8 885.3L855.7 883.5L862.1 878.6L869.2 876.5L873.9 873.9L878.6 876.0L884.4 876.9L887.7 881.1L893.2 878.3L897.3 878.0L900.2 880.3L902.9 885.4L901.8 891.5L898.9 897.1L901.6 901.6L905.1 906.1L911.0 907.6L915.2 904.4L913.2 899.3L911.5 894.9L909.2 890.2L910.7 886.1L918.2 887.4L921.4 886.9L926.9 884.3L933.0 882.7L939.1 880.0L944.9 877.8L950.2 874.0L954.7 874.2L959.0 870.8L964.6 873.3L969.1 870.0L974.8 867.1L978.1 863.8L983.1 861.9L984.9 857.4L983.2 852.1L981.3 848.7L984.6 845.8L986.7 849.5L988.3 855.6L991.5 859.4L993.6 863.4L998.3 860.7L1003.3 857.7L1008.3 857.3L1014.2 854.9L1020.3 853.4L1024.4 853.3L1028.2 851.5L1034.0 850.0L1039.7 847.0L1044.2 848.3L1048.0 846.5L1051.4 842.2L1054.8 837.8L1059.9 835.1L1065.4 832.3L1069.7 832.4L1073.6 828.9L1076.2 824.6L1079.9 820.3L1085.0 816.4L1089.9 813.8L1095.1 810.2L1099.4 810.6"/>
<path d="M883.3 1023.0L880.3 1016.1L875.4 1008.2L869.4 1000.2L863.5 993.3L857.6 988.3L849.6 980.4L841.7 972.5L833.8 966.5L826.8 960.6L821.9 954.7L816.9 946.7L813.0 936.8L812.0 928.9L815.0 921.0L818.9 914.0L823.9 909.1L828.8 903.1L832.8 897.2"/>
<path d="M889.3 918.0L895.2 915.0L903.1 913.0L911.1 912.1L917.0 911.1L921.0 910.1L924.9 913.0L928.9 918.0L927.9 923.9L923.9 928.9L921.0 934.8L918.0 939.8L913.0 942.8L909.1 946.7L903.1 948.7L897.2 951.7L891.2 949.7L885.3 948.7L879.4 947.7L877.4 940.8L876.4 934.8L877.4 928.9L881.3 924.9L886.3 921.0L889.3 918.0"/>
<path d="M1125.1 1023.0L1124.1 1014.1L1122.1 1006.2L1121.1 998.2L1124.1 995.3L1128.0 998.2L1132.0 1000.2L1134.0 995.3L1133.0 988.3L1135.0 980.4L1137.0 968.5L1138.9 958.6L1140.9 950.7L1144.9 945.7L1150.8 943.8L1156.8 946.7L1161.7 949.7L1166.7 951.7L1172.6 950.7L1175.6 946.7L1177.6 950.7L1176.6 957.6L1178.6 963.6L1180.6 968.5L1181.5 974.5L1180.6 980.4L1177.6 986.4L1174.6 992.3L1170.6 997.3L1165.7 1000.2L1161.7 1005.2L1159.7 1010.1L1158.8 1016.1L1156.8 1023.0"/>
<path d="M1165.7 1023.6L1169.7 1021.6L1173.0 1023.6"/>
<path d="M1079.6 818.0L1082.8 815.2L1086.8 813.4L1090.3 815.5L1095.1 811.6L1098.7 809.5L1103.0 805.7L1103.6 799.8L1108.3 797.1L1112.7 795.9L1116.5 791.4L1119.9 787.7L1114.8 783.8L1109.3 781.4L1107.0 779.7L1112.3 778.4L1118.2 779.5L1120.4 773.9L1118.8 769.6L1117.9 765.6L1122.4 765.2L1124.8 767.8L1126.6 762.2L1130.6 758.9L1132.6 754.1L1137.3 750.8L1138.4 745.4L1141.3 741.1L1144.7 737.0L1147.7 734.2L1150.5 730.5L1154.7 727.4L1156.4 730.3L1159.6 726.5L1159.8 720.7L1160.9 715.9L1160.2 709.9L1161.3 703.9L1166.4 700.7L1169.1 697.4L1171.3 699.8L1175.4 701.7L1178.4 696.9L1175.5 693.3L1171.4 690.7"/>
<path d="M1171.8 690.2L1168.8 692.1L1164.8 693.1L1160.9 690.2L1155.9 687.2L1151.0 685.2L1147.0 687.2L1143.0 690.2L1137.1 689.2L1130.2 687.6L1133.1 685.2L1139.1 683.2L1145.0 684.2L1151.0 679.3L1156.9 676.3L1162.9 675.3L1167.8 673.3L1166.8 667.4L1168.4 659.4L1166.4 653.1L1160.9 647.2L1155.9 643.2L1151.0 640.6L1147.0 636.7L1145.0 629.7L1142.1 621.8L1139.1 613.9L1136.1 606.9L1133.1 600.0"/>
<path d="M1168.8 690.2L1172.4 693.1L1176.7 695.1L1178.7 698.1"/>
<path d="M1107.4 779.3L1111.3 780.7L1117.3 780.7"/>
<path d="M1163.7 817.9L1161.7 823.9L1159.7 830.8L1156.8 839.7L1153.8 847.6L1149.8 855.6L1146.9 861.5L1145.9 868.5L1143.9 871.4L1140.9 865.5L1138.0 859.5L1133.0 852.6L1129.0 845.7L1128.0 837.7L1130.0 827.8L1134.0 817.9L1138.9 810.0L1139.1 812.0L1146.0 806.1L1152.9 802.1L1158.9 799.1L1164.8 800.5L1168.8 804.1L1169.8 810.0L1163.7 817.9"/>
<path d="M1277.9 617.7L1277.5 619.2L1275.5 620.9L1272.5 622.3L1268.9 623.3L1265.5 623.6L1263.0 623.1L1261.8 622.0L1262.3 620.4L1264.2 618.8L1267.3 617.3L1270.9 616.4L1274.2 616.1L1276.7 616.5L1277.9 617.7"/>
<path d="M1359.0 686.4L1358.8 687.5L1358.1 688.4L1357.0 688.9L1355.9 688.9L1354.9 688.4L1354.1 687.5L1353.9 686.4L1354.1 685.3L1354.9 684.4L1355.9 683.9L1357.0 683.9L1358.1 684.4L1358.8 685.3L1359.0 686.4"/>
<path d="M1147.0 638.0L1144.0 630.0L1141.1 620.1L1138.1 610.2L1134.1 602.3L1129.2 596.4L1123.2 592.4L1116.3 590.4L1110.3 588.4L1107.4 585.5L1109.4 580.5L1112.3 576.5L1116.3 572.6L1120.3 568.6L1125.2 564.7L1129.2 561.7L1135.1 558.7L1140.1 555.7L1144.0 552.8L1149.0 550.8L1154.9 547.8L1160.9 544.8L1166.8 541.9L1171.8 539.9L1176.7 540.9L1178.7 543.8L1181.7 538.9L1180.7 534.9L1184.7 532.0L1180.7 530.0L1175.7 529.0L1170.8 530.0L1165.8 528.0L1159.9 527.0L1153.9 525.0L1148.0 523.0L1142.1 522.1L1137.1 523.0L1132.1 525.0L1128.2 528.0L1124.2 532.0L1120.3 534.9L1114.3 535.9L1109.4 534.9L1105.4 532.0L1103.4 526.0L1102.4 520.1L1099.4 516.1L1093.5 515.1L1087.6 514.1L1081.6 512.1L1076.7 509.2L1073.7 504.2L1072.7 499.3L1074.7 494.3L1078.6 491.3L1083.6 490.3L1088.5 491.3L1093.5 489.4L1099.4 488.4L1105.4 485.4L1110.3 479.4L1116.3 475.5L1123.2 472.5L1130.2 469.5L1136.1 466.6L1141.1 462.6L1146.0 457.6L1151.0 454.7L1156.9 453.7L1161.9 454.7L1166.8 452.7L1168.8 456.7L1172.8 458.6L1176.7 461.6L1174.7 466.6L1170.8 470.5L1165.8 473.5L1160.9 475.5L1157.9 479.4L1158.9 483.4L1154.9 484.4L1155.9 488.4L1160.9 487.4L1164.8 488.4L1163.8 492.3L1158.9 494.3L1153.9 496.3L1151.0 498.3L1152.0 501.2L1156.9 499.3L1162.9 497.7L1166.8 495.3L1169.8 492.3L1174.7 488.4L1180.7 484.4L1187.6 481.0L1194.6 478.5L1201.5 477.1L1208.4 476.1L1215.4 475.1L1221.3 473.5L1224.3 476.5L1228.2 478.5L1231.2 482.4L1235.2 483.4L1239.1 483.4L1243.1 485.4L1245.1 490.3L1243.1 495.3L1241.1 499.3L1245.1 501.2L1248.1 503.2L1242.1 504.2L1237.2 506.2L1235.2 510.2L1233.2 514.1L1229.2 517.1L1228.2 519.1L1233.2 518.1L1238.2 517.1L1242.1 519.1L1240.1 522.1L1245.1 523.0L1249.1 520.1L1253.0 518.1L1258.0 521.1L1262.9 523.0L1267.9 522.1L1271.8 524.0L1270.9 529.0L1273.8 532.9L1274.8 537.9L1278.8 540.9L1277.8 543.8L1272.8 541.9L1267.9 540.9L1263.9 542.9L1261.9 546.8L1265.9 548.8L1267.9 554.7L1270.9 559.7L1273.8 562.7L1271.8 567.6L1269.9 572.6L1266.9 578.5L1264.9 584.5L1262.9 589.4L1260.0 592.4L1261.9 596.4L1265.9 594.4L1269.9 598.3L1274.8 599.3L1279.8 596.4L1284.7 594.4L1289.7 590.4L1294.6 588.4L1299.6 586.5L1303.5 584.5L1308.5 585.5L1313.5 586.5L1317.4 584.5L1321.4 581.5L1326.3 578.5L1330.3 572.6L1333.3 566.6L1334.3 558.7L1334.7 550.8L1334.3 542.9L1332.3 535.9L1329.3 530.0L1325.3 523.0L1321.4 517.1L1316.4 510.2L1311.5 504.2L1305.5 499.3L1299.6 495.3L1293.6 492.3L1288.7 489.4L1289.7 484.4L1291.7 479.4L1297.6 475.5L1304.5 471.5L1311.5 469.5L1316.4 470.5L1317.4 467.6L1323.4 464.6L1329.3 460.6L1335.3 457.6L1340.2 452.7L1339.2 445.8L1342.2 439.8L1345.2 435.9"/>
<path d="M1366.3 601.3L1369.3 597.3L1375.2 595.3L1381.2 591.4L1387.1 587.4L1393.1 582.4L1399.0 578.5L1405.0 575.5L1410.9 573.1L1416.9 571.9L1419.8 573.1L1426.8 571.9L1434.7 570.5L1442.6 569.6L1450.6 568.6L1457.5 567.2L1461.5 567.6L1462.5 570.5L1466.4 571.9L1471.4 571.9L1475.3 569.6L1477.3 566.6L1477.9 562.6L1480.3 559.6L1484.3 556.7L1488.2 552.7L1491.2 548.7L1492.2 543.8L1493.2 539.8L1495.2 535.9L1498.1 532.9L1503.1 529.9L1507.1 528.9L1506.1 531.9L1501.1 533.9L1498.1 536.8L1499.1 540.8L1503.1 543.8L1507.1 542.2L1512.0 539.8L1518.0 537.8L1523.9 535.9L1529.9 532.9L1534.8 529.9L1537.8 525.9L1541.7 522.0L1547.7 519.0L1553.6 514.1L1558.6 508.1L1562.6 501.2L1565.9 496.2"/>
<path d="M1366.3 601.3L1366.3 605.2L1369.3 607.2L1375.2 606.2L1380.2 605.6L1385.1 607.2L1391.1 608.8L1396.0 608.2L1398.0 604.2L1397.0 600.9L1401.0 599.3L1407.0 598.9L1412.9 597.7L1418.8 596.3L1424.8 594.9L1430.7 593.3L1435.7 591.4L1440.7 590.0L1446.6 589.4L1451.6 589.8L1455.5 591.8L1458.5 594.9L1462.5 593.7L1465.4 592.4L1464.4 595.3L1458.5 596.3L1457.5 601.3L1459.5 607.2L1462.5 611.2L1466.4 615.1L1471.4 617.1L1476.3 616.1L1479.3 612.2L1481.3 607.2L1485.3 603.3L1489.2 600.3L1493.2 598.3L1496.2 596.3L1498.1 592.4L1495.2 590.4L1492.2 588.4L1493.2 584.4L1496.2 583.4L1497.1 587.4L1500.1 590.4L1506.1 589.4L1505.1 592.4L1510.0 592.4L1518.0 591.8L1525.9 591.4L1527.9 588.4L1530.8 585.4L1535.8 584.4L1539.8 587.4L1542.7 588.4L1544.7 583.4L1547.7 579.5L1552.6 577.5L1557.6 577.5L1560.6 574.5L1563.5 571.5L1565.9 569.6"/>
<path d="M1565.9 570.5L1562.6 574.5L1561.6 579.5L1563.5 583.4L1565.9 584.4"/>
<path d="M1390.1 621.1L1395.1 619.1L1401.0 616.7L1407.0 614.2L1410.9 610.8L1408.9 607.2L1412.9 605.2L1418.8 605.6L1421.8 602.3L1426.8 600.3L1432.7 598.3L1438.7 596.3L1442.6 595.3L1447.6 596.3L1450.6 599.3L1449.6 603.3L1448.6 608.2L1450.2 611.2L1446.6 613.2L1442.6 615.1L1439.7 618.1L1437.7 623.1L1433.7 620.1L1428.8 618.7L1424.8 621.1L1419.8 624.1L1415.9 627.0L1411.9 631.0L1408.9 634.0L1404.0 634.6L1403.0 630.0L1401.0 626.0L1400.0 621.1L1395.1 622.1L1390.1 621.1"/>
<path d="M1332.6 624.1L1337.6 620.1L1343.5 617.1L1349.5 613.6L1355.4 610.2L1361.4 607.6L1366.3 607.2L1369.3 610.2L1375.2 613.2L1380.2 616.1L1383.2 619.1L1379.2 622.1L1383.2 623.1L1388.1 624.1L1389.1 629.0L1387.1 635.0L1384.2 640.9L1381.6 646.9L1379.6 652.8L1378.2 658.8L1374.2 661.7L1369.3 662.7L1368.3 666.7L1365.3 669.7L1362.4 671.6L1359.4 668.7L1358.4 663.7L1360.4 658.8L1357.4 660.7L1356.4 665.7L1352.4 664.7L1349.5 662.7L1352.4 658.8L1351.8 652.8L1350.5 646.9L1349.5 641.9L1346.5 638.9L1343.5 634.0L1339.6 631.0L1336.6 627.0L1332.6 624.1"/>
<path d="M1356.6 632.6L1356.1 634.8L1354.8 636.6L1352.9 637.6L1350.8 637.6L1348.9 636.6L1347.6 634.8L1347.1 632.6L1347.6 630.4L1348.9 628.6L1350.8 627.6L1352.9 627.6L1354.8 628.6L1356.1 630.4L1356.6 632.6"/>
<path d="M1351.6 641.3L1351.3 642.5L1350.5 643.5L1349.2 644.0L1347.8 644.0L1346.5 643.5L1345.6 642.5L1345.3 641.3L1345.6 640.1L1346.5 639.1L1347.8 638.6L1349.2 638.6L1350.5 639.1L1351.3 640.1L1351.6 641.3"/>
<path d="M1360.0 639.9L1359.2 641.4L1358.0 642.4L1356.7 642.8L1355.5 642.4L1354.7 641.3L1354.5 639.7L1354.8 638.0L1355.6 636.5L1356.8 635.4L1358.1 635.1L1359.3 635.5L1360.1 636.6L1360.3 638.2L1360.0 639.9"/>
<path d="M1363.7 658.8L1363.5 660.1L1362.8 661.2L1361.9 661.8L1360.8 661.8L1359.9 661.2L1359.2 660.1L1359.0 658.8L1359.2 657.4L1359.9 656.3L1360.8 655.7L1361.9 655.7L1362.8 656.3L1363.5 657.4L1363.7 658.8"/>
<path d="M1360.2 686.1L1359.9 687.3L1359.1 688.3L1358.0 688.8L1356.8 688.8L1355.7 688.3L1354.9 687.3L1354.6 686.1L1354.9 684.9L1355.7 683.9L1356.8 683.4L1358.0 683.4L1359.1 683.9L1359.9 684.9L1360.2 686.1"/>
<path d="M1345.1 435.9L1345.4 431.4L1350.8 425.1L1357.6 419.7L1361.6 415.7L1367.0 417.0L1371.1 413.0L1376.5 410.3L1380.5 406.2L1384.6 402.2L1388.6 403.5L1391.4 400.8L1396.8 402.2L1398.1 408.9L1403.5 410.3L1408.9 411.6L1414.3 415.1L1422.4 413.0L1430.5 410.3L1438.6 406.2L1446.8 402.2L1454.9 396.8L1463.0 390.0L1469.7 383.2L1476.5 376.5L1483.2 369.7L1491.4 363.0L1499.5 356.2L1507.6 349.5L1514.3 342.7L1521.1 335.9L1526.5 329.2L1530.5 322.4L1534.6 317.0L1540.0 311.6L1545.4 306.2L1550.8 300.8L1556.2 296.8L1561.6 294.1L1565.9 291.9"/>
<path d="M1458.9 148.1L1464.3 150.8L1471.1 152.2L1479.2 153.5L1487.3 153.0L1491.4 156.2L1492.2 163.0L1490.5 168.4L1495.4 171.1L1502.2 168.4L1504.9 164.3L1506.2 161.6L1510.3 162.2L1513.0 165.7L1508.9 167.0L1504.9 171.1L1506.2 175.1L1511.6 176.5L1519.7 174.6L1525.1 171.1L1526.5 176.5L1531.9 176.5L1535.9 171.1L1536.5 165.7L1534.6 161.6L1541.4 160.3L1549.5 159.5L1557.6 161.6L1565.9 164.3"/>
<path d="M1484.6 143.2L1495.4 146.8L1506.2 147.6L1514.3 150.8L1521.1 148.1L1526.5 144.1"/>
<path d="M1536.3 173.0L1535.3 175.2L1533.7 176.7L1531.7 177.2L1529.9 176.7L1528.5 175.3L1527.8 173.1L1528.0 170.8L1529.0 168.6L1530.7 167.1L1532.6 166.6L1534.5 167.1L1535.9 168.5L1536.5 170.6L1536.3 173.0"/>
<path d="M1565.9 391.4L1563.0 392.7L1563.5 400.8L1565.9 402.2"/>
<path d="M1565.9 415.7L1562.4 419.7L1563.0 426.5L1565.9 429.2"/>
<path d="M1534.0 517.8L1532.6 519.8L1530.9 521.0L1529.1 521.3L1527.6 520.6L1526.6 519.0L1526.5 516.9L1527.1 514.6L1528.4 512.6L1530.2 511.4L1532.0 511.1L1533.5 511.8L1534.5 513.4L1534.6 515.5L1534.0 517.8"/>
<path d="M1567.6 421.1L1567.3 423.2L1566.5 424.9L1565.5 425.8L1564.3 425.8L1563.2 424.9L1562.4 423.2L1562.2 421.1L1562.4 419.0L1563.2 417.3L1564.3 416.3L1565.5 416.3L1566.5 417.3L1567.3 419.0L1567.6 421.1"/>
<path d="M1128.2 651.9L1143.0 648.5L1152.0 648.2L1160.9 653.5L1166.8 659.1" stroke-width="6"/>
</g>
<g transform="translate(1786.5,0)" fill="#000" stroke="#000" stroke-width="2" stroke-linejoin="round">
<path d="M474.4 839.7L480.2 835.4L482.7 844.7L486.7 856.6L480.8 860.5L476.8 855.6L477.4 847.6Z"/>
<path d="M361.9 918.6L365.8 916.6L368.4 918.6L364.8 921.4Z"/>
<path d="M544.2 938.8L547.5 937.8L548.7 942.4L545.6 943.2Z"/>
<path d="M1156.3 929.4L1155.9 929.9L1155.4 930.3L1154.7 930.3L1154.0 930.0L1153.5 929.6L1153.2 929.0L1153.3 928.4L1153.7 927.8L1154.2 927.5L1154.9 927.5L1155.6 927.7L1156.1 928.2L1156.3 928.8L1156.3 929.4Z"/>
<path d="M1160.6 928.6L1160.3 929.2L1159.7 929.5L1159.0 929.5L1158.4 929.3L1157.9 928.8L1157.6 928.2L1157.7 927.6L1158.0 927.0L1158.6 926.7L1159.3 926.7L1159.9 927.0L1160.5 927.4L1160.7 928.0L1160.6 928.6Z"/>
<path d="M1155.3 934.6L1154.9 935.1L1154.4 935.4L1153.7 935.4L1153.0 935.2L1152.5 934.7L1152.3 934.1L1152.3 933.5L1152.7 933.0L1153.2 932.7L1153.9 932.7L1154.6 932.9L1155.1 933.4L1155.4 934.0L1155.3 934.6Z"/>
<path d="M1169.4 936.6L1169.0 937.1L1168.4 937.4L1167.7 937.4L1167.1 937.2L1166.6 936.7L1166.3 936.1L1166.4 935.5L1166.7 935.0L1167.3 934.7L1168.0 934.6L1168.7 934.9L1169.2 935.3L1169.4 936.0L1169.4 936.6Z"/>
<path d="M1171.3 938.7L1171.0 939.3L1170.4 939.6L1169.7 939.6L1169.1 939.4L1168.6 938.9L1168.3 938.3L1168.4 937.7L1168.7 937.2L1169.3 936.9L1170.0 936.8L1170.6 937.1L1171.2 937.5L1171.4 938.1L1171.3 938.7Z"/>
<path d="M1167.2 896.9L1166.8 897.5L1166.2 897.8L1165.6 897.8L1164.9 897.5L1164.4 897.1L1164.1 896.5L1164.2 895.9L1164.6 895.3L1165.1 895.0L1165.8 895.0L1166.5 895.2L1167.0 895.7L1167.2 896.3L1167.2 896.9Z"/>
<path d="M1169.4 899.7L1169.0 900.2L1168.4 900.5L1167.7 900.6L1167.1 900.3L1166.6 899.9L1166.3 899.2L1166.4 898.6L1166.7 898.1L1167.3 897.8L1168.0 897.8L1168.7 898.0L1169.2 898.5L1169.4 899.1L1169.4 899.7Z"/>
<path d="M1171.1 903.7L1170.8 904.2L1170.2 904.5L1169.5 904.5L1168.9 904.3L1168.4 903.8L1168.1 903.2L1168.2 902.6L1168.5 902.1L1169.1 901.8L1169.8 901.7L1170.4 902.0L1171.0 902.5L1171.2 903.1L1171.1 903.7Z"/>
<path d="M1170.4 906.8L1170.0 907.4L1169.4 907.7L1168.7 907.7L1168.1 907.5L1167.6 907.0L1167.3 906.4L1167.4 905.8L1167.7 905.3L1168.3 904.9L1169.0 904.9L1169.7 905.2L1170.2 905.6L1170.4 906.2L1170.4 906.8Z"/>
<path d="M839.2 891.8L838.9 892.3L838.3 892.6L837.6 892.6L836.9 892.4L836.4 891.9L836.2 891.3L836.3 890.7L836.6 890.2L837.2 889.9L837.9 889.9L838.5 890.1L839.0 890.6L839.3 891.2L839.2 891.8Z"/>
<path d="M852.1 890.2L851.8 890.7L851.2 891.0L850.5 891.1L849.8 890.8L849.3 890.3L849.1 889.7L849.1 889.1L849.5 888.6L850.1 888.3L850.8 888.3L851.4 888.5L851.9 889.0L852.2 889.6L852.1 890.2Z"/>
<path d="M875.3 874.0L874.9 874.5L874.4 874.8L873.7 874.8L873.0 874.6L872.5 874.1L872.3 873.5L872.3 872.9L872.7 872.4L873.2 872.1L873.9 872.0L874.6 872.3L875.1 872.7L875.4 873.3L875.3 874.0Z"/>
<path d="M898.3 877.5L897.9 878.0L897.4 878.3L896.7 878.4L896.0 878.1L895.5 877.7L895.2 877.1L895.3 876.4L895.7 875.9L896.2 875.6L896.9 875.6L897.6 875.8L898.1 876.3L898.3 876.9L898.3 877.5Z"/>
<path d="M985.9 848.2L985.5 848.7L984.9 849.0L984.2 849.0L983.6 848.8L983.1 848.3L982.8 847.7L982.9 847.1L983.2 846.6L983.8 846.3L984.5 846.3L985.2 846.5L985.7 847.0L985.9 847.6L985.9 848.2Z"/>
<path d="M994.8 863.6L994.4 864.2L993.9 864.5L993.2 864.5L992.5 864.3L992.0 863.8L991.7 863.2L991.8 862.6L992.2 862.1L992.7 861.7L993.4 861.7L994.1 862.0L994.6 862.4L994.8 863.0L994.8 863.6Z"/>
<path d="M967.0 874.3L966.7 874.9L966.1 875.2L965.4 875.2L964.8 875.0L964.3 874.5L964.0 873.9L964.1 873.3L964.4 872.8L965.0 872.4L965.7 872.4L966.3 872.7L966.9 873.1L967.1 873.7L967.0 874.3Z"/>
<path d="M841.2 894.8L840.9 895.3L840.3 895.6L839.6 895.6L838.9 895.4L838.4 894.9L838.2 894.3L838.2 893.7L838.6 893.2L839.2 892.9L839.9 892.8L840.5 893.1L841.0 893.5L841.3 894.1L841.2 894.8Z"/>
<path d="M1210.5 817.0L1210.7 817.8L1210.4 818.7L1209.7 819.5L1208.7 820.1L1207.6 820.3L1206.7 820.2L1206.1 819.6L1205.9 818.8L1206.2 817.9L1206.9 817.1L1207.9 816.5L1209.0 816.3L1209.9 816.5L1210.5 817.0Z"/>
<path d="M1218.5 814.7L1218.6 815.5L1218.3 816.3L1217.6 817.2L1216.6 817.7L1215.5 818.0L1214.6 817.8L1214.0 817.2L1213.8 816.4L1214.1 815.5L1214.9 814.7L1215.8 814.2L1216.9 813.9L1217.8 814.1L1218.5 814.7Z"/>
<path d="M1222.8 812.7L1223.0 813.5L1222.7 814.4L1221.9 815.2L1221.0 815.8L1219.9 816.0L1219.0 815.8L1218.4 815.3L1218.2 814.5L1218.5 813.6L1219.2 812.7L1220.2 812.2L1221.3 812.0L1222.2 812.1L1222.8 812.7Z"/>
<path d="M1339.7 726.6L1340.0 728.0L1339.1 730.0L1337.2 732.2L1334.8 734.3L1332.3 735.7L1330.1 736.2L1328.8 735.8L1328.6 734.4L1329.5 732.4L1331.3 730.1L1333.7 728.1L1336.3 726.7L1338.4 726.1L1339.7 726.6Z"/>
<path d="M1324.8 741.9L1324.5 743.1L1323.9 744.0L1322.9 744.6L1321.8 744.6L1320.9 744.0L1320.2 743.1L1320.0 741.9L1320.2 740.7L1320.9 739.7L1321.8 739.2L1322.9 739.2L1323.9 739.7L1324.5 740.7L1324.8 741.9Z"/>
<path d="M1307.7 764.3L1308.1 765.9L1307.3 768.7L1305.3 772.0L1302.6 775.2L1299.7 777.7L1297.1 779.1L1295.5 778.9L1295.0 777.3L1295.9 774.6L1297.8 771.2L1300.6 768.0L1303.5 765.5L1306.0 764.2L1307.7 764.3Z"/>
<path d="M1369.3 674.6L1369.8 675.5L1369.7 677.1L1369.1 679.3L1368.0 681.5L1366.8 683.4L1365.5 684.5L1364.6 684.7L1364.1 683.9L1364.2 682.2L1364.9 680.0L1365.9 677.8L1367.2 675.9L1368.4 674.8L1369.3 674.6Z"/>
<path d="M1244.5 804.1L1244.3 804.8L1243.8 805.3L1243.0 805.6L1242.1 805.6L1241.3 805.3L1240.7 804.8L1240.5 804.1L1240.7 803.4L1241.3 802.9L1242.1 802.6L1243.0 802.6L1243.8 802.9L1244.3 803.4L1244.5 804.1Z"/>
<path d="M1246.3 809.3L1246.1 809.9L1245.6 810.5L1244.9 810.8L1244.1 810.8L1243.4 810.5L1242.9 809.9L1242.7 809.3L1242.9 808.6L1243.4 808.0L1244.1 807.7L1244.9 807.7L1245.6 808.0L1246.1 808.6L1246.3 809.3Z"/>
<path d="M1215.4 816.2L1215.4 817.0L1214.8 817.8L1213.9 818.4L1212.7 818.8L1211.6 818.9L1210.7 818.7L1210.2 818.1L1210.2 817.4L1210.7 816.6L1211.7 815.9L1212.8 815.5L1214.0 815.4L1214.9 815.7L1215.4 816.2Z"/>
<path d="M1220.8 814.0L1220.9 814.7L1220.6 815.5L1220.0 816.3L1219.1 816.8L1218.1 817.0L1217.2 816.9L1216.7 816.4L1216.5 815.7L1216.8 814.9L1217.5 814.1L1218.4 813.6L1219.4 813.4L1220.2 813.5L1220.8 814.0Z"/>
<path d="M1317.8 626.1L1317.3 627.6L1316.6 628.7L1315.7 629.3L1314.8 629.1L1314.1 628.3L1313.8 627.0L1313.9 625.4L1314.3 623.9L1315.1 622.8L1316.0 622.3L1316.9 622.4L1317.5 623.2L1317.9 624.5L1317.8 626.1Z"/>
<path d="M1321.2 634.1L1320.9 635.1L1320.3 635.9L1319.3 636.4L1318.3 636.4L1317.3 635.9L1316.7 635.1L1316.4 634.1L1316.7 633.1L1317.3 632.2L1318.3 631.8L1319.3 631.8L1320.3 632.2L1320.9 633.1L1321.2 634.1Z"/>
<path d="M1327.2 630.8L1326.7 631.7L1325.9 632.3L1325.0 632.4L1324.1 632.1L1323.5 631.4L1323.3 630.5L1323.5 629.4L1324.0 628.5L1324.8 628.0L1325.7 627.8L1326.6 628.1L1327.1 628.8L1327.4 629.8L1327.2 630.8Z"/>
<path d="M1342.0 610.9L1341.8 611.7L1341.3 612.3L1340.6 612.6L1339.8 612.6L1339.1 612.3L1338.6 611.7L1338.4 610.9L1338.6 610.1L1339.1 609.5L1339.8 609.2L1340.6 609.2L1341.3 609.5L1341.8 610.1L1342.0 610.9Z"/>
<path d="M1132.9 559.1L1132.8 559.9L1132.3 560.5L1131.5 560.8L1130.8 560.8L1130.0 560.5L1129.5 559.9L1129.4 559.1L1129.5 558.3L1130.0 557.7L1130.8 557.4L1131.5 557.4L1132.3 557.7L1132.8 558.3L1132.9 559.1Z"/>
<path d="M1146.6 549.8L1146.5 550.5L1146.0 551.0L1145.4 551.3L1144.7 551.3L1144.0 551.0L1143.6 550.5L1143.4 549.8L1143.6 549.1L1144.0 548.6L1144.7 548.2L1145.4 548.2L1146.0 548.6L1146.5 549.1L1146.6 549.8Z"/>
<path d="M1263.3 588.4L1263.1 589.3L1262.4 590.0L1261.5 590.4L1260.4 590.4L1259.5 590.0L1258.8 589.3L1258.6 588.4L1258.8 587.6L1259.5 586.9L1260.4 586.5L1261.5 586.5L1262.4 586.9L1263.1 587.6L1263.3 588.4Z"/>
<path d="M1265.5 596.3L1265.0 597.0L1264.0 597.4L1262.8 597.4L1261.7 597.0L1260.8 596.2L1260.3 595.3L1260.3 594.4L1260.9 593.7L1261.8 593.3L1263.0 593.3L1264.2 593.8L1265.1 594.5L1265.6 595.4L1265.5 596.3Z"/>
<path d="M1272.8 599.3L1272.6 600.0L1272.1 600.6L1271.3 600.9L1270.4 600.9L1269.6 600.6L1269.1 600.0L1268.9 599.3L1269.1 598.6L1269.6 598.1L1270.4 597.8L1271.3 597.8L1272.1 598.1L1272.6 598.6L1272.8 599.3Z"/>
<path d="M1289.1 591.0L1289.3 591.8L1288.9 592.7L1288.1 593.6L1287.0 594.2L1285.9 594.5L1284.9 594.3L1284.3 593.8L1284.2 593.0L1284.5 592.1L1285.3 591.2L1286.4 590.6L1287.5 590.3L1288.5 590.5L1289.1 591.0Z"/>
<path d="M1298.8 587.6L1298.9 588.3L1298.4 589.1L1297.6 589.7L1296.6 590.1L1295.6 590.1L1294.8 589.8L1294.4 589.2L1294.4 588.5L1294.8 587.8L1295.6 587.2L1296.6 586.8L1297.6 586.8L1298.4 587.1L1298.8 587.6Z"/>
<path d="M1304.1 585.5L1304.0 586.3L1303.5 587.0L1302.9 587.4L1302.2 587.4L1301.6 587.0L1301.1 586.3L1301.0 585.5L1301.1 584.6L1301.6 583.9L1302.2 583.5L1302.9 583.5L1303.5 583.9L1304.0 584.6L1304.1 585.5Z"/>
<path d="M1317.0 587.4L1316.9 588.1L1316.4 588.7L1315.8 589.0L1315.1 589.0L1314.5 588.7L1314.0 588.1L1313.9 587.4L1314.0 586.8L1314.5 586.2L1315.1 585.9L1315.8 585.9L1316.4 586.2L1316.9 586.8L1317.0 587.4Z"/>
<path d="M1333.8 598.4L1332.8 601.2L1331.5 603.3L1330.1 604.2L1329.0 603.9L1328.4 602.4L1328.3 600.0L1328.8 597.1L1329.8 594.3L1331.1 592.2L1332.4 591.3L1333.5 591.6L1334.2 593.1L1334.3 595.5L1333.8 598.4Z"/>
<path d="M1342.0 611.2L1341.8 612.0L1341.3 612.6L1340.6 613.0L1339.8 613.0L1339.1 612.6L1338.6 612.0L1338.4 611.2L1338.6 610.4L1339.1 609.8L1339.8 609.5L1340.6 609.5L1341.3 609.8L1341.8 610.4L1342.0 611.2Z"/>
<path d="M1367.2 529.0L1366.9 529.9L1366.3 530.7L1365.5 531.1L1364.5 531.1L1363.6 530.7L1363.0 529.9L1362.8 529.0L1363.0 528.0L1363.6 527.3L1364.5 526.9L1365.5 526.9L1366.3 527.3L1366.9 528.0L1367.2 529.0Z"/>
<path d="M1420.5 556.7L1420.2 557.8L1419.6 558.6L1418.6 559.0L1417.6 559.0L1416.6 558.6L1415.9 557.8L1415.7 556.7L1415.9 555.7L1416.6 554.9L1417.6 554.4L1418.6 554.4L1419.6 554.9L1420.2 555.7L1420.5 556.7Z"/>
<path d="M1270.9 523.0L1270.7 523.8L1270.1 524.4L1269.3 524.8L1268.4 524.8L1267.6 524.4L1267.1 523.8L1266.9 523.0L1267.1 522.3L1267.6 521.6L1268.4 521.3L1269.3 521.3L1270.1 521.6L1270.7 522.3L1270.9 523.0Z"/>
<path d="M1232.8 483.4L1232.6 484.1L1232.2 484.6L1231.6 485.0L1230.9 485.0L1230.2 484.6L1229.8 484.1L1229.6 483.4L1229.8 482.7L1230.2 482.2L1230.9 481.9L1231.6 481.9L1232.2 482.2L1232.6 482.7L1232.8 483.4Z"/>
<path d="M1267.5 549.8L1267.3 550.7L1266.9 551.3L1266.3 551.7L1265.5 551.7L1264.9 551.3L1264.5 550.7L1264.3 549.8L1264.5 548.9L1264.9 548.2L1265.5 547.9L1266.3 547.9L1266.9 548.2L1267.3 548.9L1267.5 549.8Z"/>
<path d="M1279.8 541.9L1279.6 542.6L1279.0 543.1L1278.2 543.4L1277.3 543.4L1276.6 543.1L1276.0 542.6L1275.8 541.9L1276.0 541.2L1276.6 540.6L1277.3 540.3L1278.2 540.3L1279.0 540.6L1279.6 541.2L1279.8 541.9Z"/>
<path d="M1333.6 598.2L1332.8 600.8L1331.7 602.9L1330.5 603.9L1329.4 603.6L1328.7 602.2L1328.6 600.0L1328.9 597.2L1329.7 594.6L1330.8 592.5L1332.0 591.5L1333.0 591.8L1333.7 593.2L1333.9 595.5L1333.6 598.2Z"/>
<path d="M1341.7 611.2L1341.5 612.0L1340.9 612.7L1340.0 613.1L1339.1 613.1L1338.2 612.7L1337.6 612.0L1337.4 611.2L1337.6 610.3L1338.2 609.6L1339.1 609.3L1340.0 609.3L1340.9 609.6L1341.5 610.3L1341.7 611.2Z"/>
<path d="M1327.5 629.3L1326.9 630.5L1326.0 631.4L1325.0 631.7L1324.2 631.4L1323.7 630.5L1323.5 629.3L1323.8 627.9L1324.5 626.7L1325.4 625.9L1326.3 625.6L1327.2 625.9L1327.7 626.7L1327.8 627.9L1327.5 629.3Z"/>
<path d="M1322.1 635.4L1321.8 636.4L1321.1 637.2L1320.0 637.7L1318.7 637.7L1317.6 637.2L1316.8 636.4L1316.6 635.4L1316.8 634.3L1317.6 633.5L1318.7 633.0L1320.0 633.0L1321.1 633.5L1321.8 634.3L1322.1 635.4Z"/>
<path d="M1341.0 657.4L1340.3 658.5L1339.5 659.2L1338.7 659.4L1338.1 659.1L1337.7 658.3L1337.8 657.3L1338.1 656.1L1338.8 655.1L1339.6 654.4L1340.4 654.2L1341.0 654.5L1341.4 655.2L1341.4 656.3L1341.0 657.4Z"/>
<path d="M1370.0 680.5L1369.4 682.9L1368.5 684.6L1367.6 685.5L1366.8 685.4L1366.3 684.2L1366.2 682.2L1366.6 679.8L1367.2 677.5L1368.1 675.7L1369.0 674.8L1369.8 675.0L1370.3 676.2L1370.4 678.1L1370.0 680.5Z"/>
<path d="M1339.5 727.6L1339.6 729.0L1338.5 730.9L1336.5 733.0L1333.9 734.8L1331.2 736.0L1329.0 736.4L1327.8 735.8L1327.7 734.4L1328.7 732.5L1330.8 730.4L1333.4 728.6L1336.0 727.4L1338.2 727.0L1339.5 727.6Z"/>
<path d="M1420.6 556.7L1420.4 557.8L1419.6 558.7L1418.5 559.2L1417.2 559.2L1416.1 558.7L1415.4 557.8L1415.1 556.7L1415.4 555.6L1416.1 554.7L1417.2 554.2L1418.5 554.2L1419.6 554.7L1420.4 555.6L1420.6 556.7Z"/>
<path d="M1367.3 528.9L1367.1 530.0L1366.4 530.8L1365.5 531.2L1364.4 531.2L1363.4 530.8L1362.8 530.0L1362.5 528.9L1362.8 527.9L1363.4 527.1L1364.4 526.6L1365.5 526.6L1366.4 527.1L1367.1 527.9L1367.3 528.9Z"/>
<path d="M1554.6 589.8L1554.4 590.5L1553.9 591.2L1553.1 591.5L1552.2 591.5L1551.4 591.2L1550.9 590.5L1550.7 589.8L1550.9 589.0L1551.4 588.4L1552.2 588.0L1553.1 588.0L1553.9 588.4L1554.4 589.0L1554.6 589.8Z"/>
<path d="M1504.9 591.0L1504.6 591.7L1503.8 592.2L1502.7 592.5L1501.5 592.5L1500.4 592.2L1499.6 591.7L1499.3 591.0L1499.6 590.3L1500.4 589.7L1501.5 589.4L1502.7 589.4L1503.8 589.7L1504.6 590.3L1504.9 591.0Z"/>
<path d="M1532.5 520.0L1532.4 520.8L1531.9 521.6L1531.0 522.2L1529.8 522.7L1528.6 522.7L1527.7 522.5L1527.2 521.9L1527.3 521.2L1527.8 520.4L1528.7 519.7L1529.9 519.3L1531.1 519.2L1532.0 519.5L1532.5 520.0Z"/>
<path d="M1344.3 626.6L1345.0 628.4L1345.1 630.1L1344.6 631.4L1343.5 632.0L1342.1 631.8L1340.7 630.9L1339.5 629.4L1338.8 627.6L1338.7 625.9L1339.3 624.7L1340.3 624.0L1341.7 624.2L1343.2 625.1L1344.3 626.6Z"/>
<path d="M1453.1 599.3L1453.0 600.1L1452.5 600.8L1451.9 601.2L1451.2 601.2L1450.6 600.8L1450.1 600.1L1450.0 599.3L1450.1 598.4L1450.6 597.7L1451.2 597.4L1451.9 597.4L1452.5 597.7L1453.0 598.4L1453.1 599.3Z"/>
<path d="M1441.2 595.7L1441.1 596.3L1440.6 596.8L1440.0 597.1L1439.3 597.1L1438.7 596.8L1438.2 596.3L1438.1 595.7L1438.2 595.1L1438.7 594.6L1439.3 594.4L1440.0 594.4L1440.6 594.6L1441.1 595.1L1441.2 595.7Z"/>
<path d="M1555.9 426.5L1555.8 427.4L1555.3 428.2L1554.7 428.6L1554.0 428.6L1553.3 428.2L1552.9 427.4L1552.7 426.5L1552.9 425.5L1553.3 424.8L1554.0 424.4L1554.7 424.4L1555.3 424.8L1555.8 425.5L1555.9 426.5Z"/>
<path d="M1555.9 426.5L1555.8 427.4L1555.2 428.2L1554.5 428.6L1553.6 428.6L1552.9 428.2L1552.3 427.4L1552.2 426.5L1552.3 425.5L1552.9 424.8L1553.6 424.4L1554.5 424.4L1555.2 424.8L1555.8 425.5L1555.9 426.5Z"/>
<path d="M1565.1 473.0L1564.9 474.4L1564.3 475.5L1563.5 476.1L1562.5 476.1L1561.6 475.5L1561.0 474.4L1560.8 473.0L1561.0 471.6L1561.6 470.4L1562.5 469.8L1563.5 469.8L1564.3 470.4L1564.9 471.6L1565.1 473.0Z"/>
<path d="M1565.7 462.7L1565.5 463.6L1565.2 464.4L1564.6 464.8L1564.0 464.8L1563.5 464.4L1563.1 463.6L1563.0 462.7L1563.1 461.8L1563.5 461.0L1564.0 460.6L1564.6 460.6L1565.2 461.0L1565.5 461.8L1565.7 462.7Z"/>
<path d="M1554.3 590.5L1554.2 591.1L1553.8 591.6L1553.3 591.9L1552.7 591.9L1552.1 591.6L1551.8 591.1L1551.6 590.5L1551.8 590.0L1552.1 589.5L1552.7 589.2L1553.3 589.2L1553.8 589.5L1554.2 590.0L1554.3 590.5Z"/>
</g>
<g fill="#000">
<circle cx="2034.0" cy="145.0" r="1.25"/>
<circle cx="2034.0" cy="227.4" r="1.25"/>
<circle cx="2034.0" cy="309.8" r="1.25"/>
<circle cx="2034.0" cy="392.2" r="1.25"/>
<polygon points="2034.2,475.0 2034.5,474.8 2034.7,475.7 2037.0,472.6 2033.3,473.5 2034.0,474.0 2033.8,474.2"/>
<circle cx="2034.0" cy="557.0" r="1.25"/>
<circle cx="2034.0" cy="639.4" r="1.25"/>
<circle cx="2034.0" cy="721.8" r="1.25"/>
<circle cx="2034.0" cy="804.2" r="1.25"/>
<circle cx="2034.0" cy="886.6" r="1.25"/>
<polygon points="2033.2,970.1 2069.1,995.3 2066.6,997.0 2078.0,1000.0 2071.3,990.3 2070.6,993.1 2034.8,967.9"/>
<polygon points="2115.1,144.6 2106.4,170.1 2104.1,168.2 2104.4,180.0 2111.9,170.9 2108.9,171.0 2117.7,145.4"/>
<polygon points="2115.3,226.7 2107.7,238.3 2106.0,235.9 2103.4,247.4 2112.9,240.4 2110.0,239.8 2117.5,228.1"/>
<polygon points="2115.4,309.8 2115.4,310.6 2113.4,309.8 2116.4,317.8 2119.4,309.8 2117.4,310.6 2117.4,309.8"/>
<circle cx="2116.4" cy="392.2" r="1.25"/>
<polygon points="2115.8,475.1 2116.2,475.6 2114.5,476.1 2120.4,479.6 2118.3,473.1 2117.4,474.6 2117.0,474.1"/>
<circle cx="2116.4" cy="557.0" r="1.25"/>
<polygon points="2116.4,639.9 2116.8,639.9 2116.4,640.9 2120.4,639.4 2116.4,637.9 2116.8,638.9 2116.4,638.9"/>
<circle cx="2116.4" cy="721.8" r="1.25"/>
<polygon points="2117.5,803.4 2101.2,779.7 2104.1,779.0 2094.4,772.2 2097.3,783.7 2098.9,781.2 2115.3,805.0"/>
<polygon points="2116.7,885.3 2092.4,878.9 2094.2,876.5 2082.4,877.6 2092.0,884.4 2091.7,881.5 2116.1,887.9"/>
<polygon points="2115.9,970.3 2133.6,977.5 2131.6,979.6 2143.4,980.0 2134.7,972.0 2134.7,975.0 2116.9,967.7"/>
<polygon points="2197.6,144.4 2192.9,154.4 2190.8,152.2 2189.8,164.0 2198.3,155.8 2195.3,155.5 2200.0,145.6"/>
<polygon points="2198.3,227.4 2198.3,227.8 2197.3,227.4 2198.8,231.4 2200.3,227.4 2199.3,227.8 2199.3,227.4"/>
<polygon points="2199.2,309.3 2198.8,309.0 2199.9,308.3 2194.8,306.8 2197.7,311.3 2198.0,310.0 2198.4,310.3"/>
<polygon points="2198.7,392.4 2198.9,392.5 2198.4,392.9 2200.8,393.2 2199.2,391.5 2199.1,392.1 2198.9,392.0"/>
<polygon points="2199.2,474.0 2198.7,473.7 2199.9,472.7 2193.8,471.6 2197.7,476.5 2197.9,474.9 2198.4,475.2"/>
<circle cx="2198.8" cy="557.0" r="1.25"/>
<circle cx="2198.8" cy="639.4" r="1.25"/>
<circle cx="2198.8" cy="721.8" r="1.25"/>
<polygon points="2200.1,803.9 2198.5,797.6 2201.5,797.9 2194.8,788.2 2193.5,799.9 2195.9,798.2 2197.5,804.5"/>
<polygon points="2199.4,885.4 2170.3,870.1 2172.5,868.1 2160.8,866.6 2168.7,875.4 2169.0,872.4 2198.2,887.8"/>
<circle cx="2198.8" cy="969.0" r="1.25"/>
<polygon points="2280.6,145.6 2281.1,146.1 2279.3,146.9 2286.2,150.0 2283.1,143.1 2282.3,144.9 2281.8,144.4"/>
<polygon points="2281.0,227.6 2281.2,227.8 2280.5,228.1 2283.2,229.4 2281.9,226.7 2281.6,227.4 2281.4,227.2"/>
<circle cx="2281.2" cy="309.8" r="1.25"/>
<circle cx="2281.2" cy="392.2" r="1.25"/>
<circle cx="2281.2" cy="474.6" r="1.25"/>
<circle cx="2281.2" cy="557.0" r="1.25"/>
<circle cx="2281.2" cy="639.4" r="1.25"/>
<circle cx="2281.2" cy="721.8" r="1.25"/>
<polygon points="2281.4,805.5 2286.5,804.9 2285.8,807.7 2296.2,802.2 2284.7,799.6 2286.1,802.2 2281.0,802.9"/>
<polygon points="2281.5,885.3 2266.3,882.2 2267.9,879.7 2256.2,881.6 2266.2,887.8 2265.7,884.9 2280.9,887.9"/>
<polygon points="2282.3,969.4 2282.6,968.5 2284.5,970.1 2284.2,960.0 2277.9,967.9 2280.4,967.8 2280.1,968.6"/>
<polygon points="2363.4,144.5 2363.0,144.7 2362.9,143.5 2359.6,147.0 2364.3,146.5 2363.5,145.7 2363.8,145.5"/>
<circle cx="2363.6" cy="227.4" r="1.25"/>
<circle cx="2363.6" cy="309.8" r="1.25"/>
<circle cx="2363.6" cy="392.2" r="1.25"/>
<polygon points="2363.1,474.6 2363.1,475.0 2362.1,474.6 2363.6,478.6 2365.1,474.6 2364.1,475.0 2364.1,474.6"/>
<circle cx="2363.6" cy="557.0" r="1.25"/>
<circle cx="2363.6" cy="639.4" r="1.25"/>
<circle cx="2363.6" cy="721.8" r="1.25"/>
<polygon points="2363.2,804.8 2363.7,805.1 2362.5,806.1 2368.6,807.2 2364.7,802.3 2364.5,803.9 2364.0,803.6"/>
<polygon points="2363.1,886.6 2363.1,887.0 2362.1,886.6 2363.6,890.6 2365.1,886.6 2364.1,887.0 2364.1,886.6"/>
<polygon points="2363.2,969.5 2363.6,969.8 2362.5,970.5 2367.6,972.0 2364.7,967.5 2364.4,968.8 2364.0,968.5"/>
<polygon points="2445.9,144.0 2445.1,144.1 2445.6,142.0 2438.0,146.0 2446.4,148.0 2445.3,146.1 2446.1,146.0"/>
<circle cx="2446.0" cy="227.4" r="1.25"/>
<circle cx="2446.0" cy="309.8" r="1.25"/>
<polygon points="2446.0,391.5 2445.4,391.5 2446.0,390.0 2440.0,392.2 2446.0,394.4 2445.4,392.9 2446.0,392.9"/>
<circle cx="2446.0" cy="474.6" r="1.25"/>
<circle cx="2446.0" cy="557.0" r="1.25"/>
<circle cx="2446.0" cy="639.4" r="1.25"/>
<circle cx="2446.0" cy="721.8" r="1.25"/>
<polygon points="2445.9,804.4 2446.1,804.5 2445.6,804.9 2448.0,805.2 2446.4,803.5 2446.3,804.1 2446.1,804.0"/>
<polygon points="2445.8,887.1 2446.1,887.3 2445.3,888.1 2450.0,888.6 2446.7,885.1 2446.6,886.3 2446.2,886.1"/>
<polygon points="2446.7,970.2 2450.1,968.2 2450.5,971.1 2458.0,962.0 2446.4,964.0 2448.7,965.9 2445.3,967.8"/>
<polygon points="2528.2,145.7 2528.7,145.9 2527.7,147.2 2534.4,147.0 2529.1,142.8 2529.2,144.5 2528.6,144.3"/>
<circle cx="2528.4" cy="227.4" r="1.25"/>
<polygon points="2528.2,310.0 2528.4,310.2 2527.7,310.5 2530.4,311.8 2529.1,309.1 2528.8,309.8 2528.6,309.6"/>
<circle cx="2528.4" cy="392.2" r="1.25"/>
<polygon points="2527.4,474.6 2527.4,475.4 2525.4,474.6 2528.4,482.6 2531.4,474.6 2529.4,475.4 2529.4,474.6"/>
<circle cx="2528.4" cy="557.0" r="1.25"/>
<polygon points="2527.9,639.4 2527.9,639.8 2526.9,639.4 2528.4,643.4 2529.9,639.4 2528.9,639.8 2528.9,639.4"/>
<circle cx="2528.4" cy="721.8" r="1.25"/>
<polygon points="2528.4,803.7 2528.0,803.7 2528.4,802.7 2524.4,804.2 2528.4,805.7 2528.0,804.7 2528.4,804.7"/>
<polygon points="2528.4,887.3 2529.0,887.3 2528.4,888.8 2534.4,886.6 2528.4,884.4 2529.0,885.9 2528.4,885.9"/>
<polygon points="2528.3,970.3 2537.4,970.8 2536.1,973.5 2547.4,970.0 2536.6,965.3 2537.5,968.1 2528.5,967.7"/>
<polygon points="2609.8,145.9 2612.1,148.5 2609.3,149.5 2619.8,155.0 2615.5,144.0 2614.1,146.7 2611.8,144.1"/>
<polygon points="2609.6,228.1 2612.7,233.4 2609.7,233.8 2618.8,241.4 2616.9,229.7 2615.0,232.1 2612.0,226.7"/>
<polygon points="2609.8,310.7 2612.1,313.3 2609.3,314.3 2619.8,319.8 2615.5,308.8 2614.1,311.5 2611.8,308.9"/>
<circle cx="2610.8" cy="392.2" r="1.25"/>
<polygon points="2609.7,474.0 2609.2,474.9 2607.5,472.7 2605.8,483.6 2614.1,476.5 2611.4,476.1 2611.9,475.2"/>
<polygon points="2611.2,557.5 2611.6,557.2 2611.9,558.5 2614.8,554.0 2609.7,555.5 2610.8,556.2 2610.4,556.5"/>
<polygon points="2609.5,639.4 2608.8,657.4 2606.1,656.2 2609.8,667.4 2614.3,656.5 2611.5,657.5 2612.1,639.4"/>
<polygon points="2609.6,722.4 2621.1,745.5 2618.2,745.7 2626.8,753.8 2625.5,742.1 2623.5,744.3 2612.0,721.2"/>
<polygon points="2612.1,804.6 2624.3,763.2 2626.6,765.0 2625.8,753.2 2618.7,762.7 2621.7,762.4 2609.5,803.8"/>
<polygon points="2612.2,886.6 2612.2,851.6 2614.9,852.7 2610.8,841.6 2606.7,852.7 2609.5,851.6 2609.5,886.6"/>
<polygon points="2611.7,970.0 2636.2,948.6 2637.2,951.4 2642.8,941.0 2631.8,945.2 2634.4,946.6 2609.9,968.0"/>
<circle cx="2693.2" cy="145.0" r="1.25"/>
<polygon points="2691.9,227.6 2692.6,233.7 2689.7,232.9 2695.2,243.4 2697.9,231.9 2695.3,233.3 2694.5,227.2"/>
<polygon points="2692.2,310.7 2695.8,315.0 2693.0,315.9 2703.2,321.8 2699.3,310.7 2697.8,313.3 2694.2,308.9"/>
<polygon points="2693.0,393.4 2693.9,393.6 2692.5,395.9 2703.2,394.2 2693.9,388.5 2694.4,391.2 2693.4,391.0"/>
<polygon points="2691.9,474.4 2690.2,486.5 2687.6,485.1 2690.2,496.6 2695.8,486.2 2692.9,486.9 2694.5,474.8"/>
<polygon points="2691.9,557.1 2692.4,570.1 2689.6,569.1 2694.2,580.0 2697.8,568.8 2695.1,570.0 2694.5,556.9"/>
<polygon points="2692.0,638.7 2683.1,654.1 2681.2,651.8 2679.2,663.4 2688.3,655.9 2685.4,655.5 2694.4,640.1"/>
<polygon points="2694.1,722.8 2737.4,686.3 2738.4,689.1 2744.2,678.8 2733.1,682.8 2735.7,684.2 2692.3,720.8"/>
<polygon points="2694.3,804.9 2734.8,743.3 2736.6,745.7 2739.2,734.2 2729.7,741.2 2732.6,741.8 2692.1,803.5"/>
<polygon points="2694.5,886.6 2695.3,851.6 2698.1,852.8 2694.2,841.6 2689.8,852.6 2692.6,851.6 2691.9,886.6"/>
<polygon points="2694.4,968.4 2691.6,962.5 2694.6,962.3 2686.2,954.0 2687.2,965.8 2689.2,963.6 2692.0,969.6"/>
<polygon points="2774.6,145.1 2774.7,145.9 2772.6,145.4 2776.6,153.0 2778.6,144.6 2776.7,145.7 2776.6,144.9"/>
<polygon points="2774.2,227.4 2774.2,243.4 2771.5,242.3 2775.6,253.4 2779.7,242.3 2776.9,243.4 2776.9,227.4"/>
<polygon points="2775.1,311.0 2781.9,314.0 2779.8,316.1 2791.6,316.8 2783.1,308.6 2783.0,311.6 2776.1,308.6"/>
<polygon points="2774.6,393.2 2778.6,397.1 2775.9,398.3 2786.6,403.2 2781.7,392.5 2780.5,395.2 2776.6,391.2"/>
<polygon points="2774.6,474.1 2774.2,474.9 2772.6,473.1 2771.6,482.6 2778.6,476.1 2776.2,475.9 2776.6,475.1"/>
<polygon points="2775.7,557.6 2776.2,557.5 2776.0,558.9 2780.6,556.0 2775.2,555.1 2776.0,556.3 2775.5,556.4"/>
<polygon points="2774.5,638.6 2756.1,665.4 2754.5,662.9 2751.6,674.4 2761.3,667.6 2758.4,666.9 2776.7,640.2"/>
<polygon points="2776.4,722.9 2835.5,677.9 2836.3,680.8 2842.6,670.8 2831.3,674.2 2833.8,675.8 2774.8,720.7"/>
<polygon points="2776.7,804.9 2812.3,749.3 2814.1,751.7 2816.6,740.2 2807.2,747.3 2810.1,747.9 2774.5,803.5"/>
<polygon points="2776.9,886.8 2780.4,863.7 2783.0,865.2 2780.6,853.6 2774.9,863.9 2777.8,863.3 2774.3,886.4"/>
<polygon points="2776.3,967.8 2746.0,950.7 2748.3,948.9 2736.6,947.0 2744.2,956.0 2744.6,953.1 2774.9,970.2"/>
<polygon points="2857.8,144.3 2857.2,144.5 2857.3,142.8 2852.0,147.0 2858.7,147.2 2857.7,145.9 2858.2,145.7"/>
<polygon points="2857.5,227.0 2857.2,227.4 2856.5,226.3 2855.0,231.4 2859.5,228.5 2858.2,228.2 2858.5,227.8"/>
<circle cx="2858.0" cy="309.8" r="1.25"/>
<polygon points="2857.5,393.3 2858.4,393.7 2856.5,395.5 2867.0,396.2 2859.5,388.9 2859.4,391.5 2858.5,391.1"/>
<circle cx="2858.0" cy="474.6" r="1.25"/>
<polygon points="2857.4,555.8 2831.3,569.2 2831.0,566.3 2823.0,575.0 2834.7,573.6 2832.5,571.6 2858.6,558.2"/>
<polygon points="2859.0,640.3 2875.4,621.8 2876.7,624.4 2881.0,613.4 2870.6,619.0 2873.4,620.0 2857.0,638.5"/>
<polygon points="2858.8,722.9 2927.9,669.0 2928.8,671.9 2935.0,661.8 2923.7,665.4 2926.3,666.9 2857.2,720.7"/>
<polygon points="2859.3,804.6 2876.0,757.1 2878.2,759.0 2878.0,747.2 2870.4,756.3 2873.4,756.2 2856.7,803.8"/>
<polygon points="2859.0,885.7 2847.4,871.5 2850.2,870.6 2840.0,864.6 2843.8,875.8 2845.3,873.2 2857.0,887.5"/>
<polygon points="2858.7,967.8 2827.3,949.8 2829.6,947.9 2818.0,946.0 2825.5,955.1 2826.0,952.2 2857.3,970.2"/>
<circle cx="2940.4" cy="145.0" r="1.25"/>
<polygon points="2941.6,226.8 2939.3,222.6 2942.3,222.2 2933.4,214.4 2935.0,226.1 2936.9,223.8 2939.2,228.0"/>
<polygon points="2941.0,309.7 2940.9,309.2 2942.3,309.4 2939.4,304.8 2938.5,310.2 2939.7,309.4 2939.8,309.9"/>
<polygon points="2941.3,393.2 2945.6,389.6 2946.5,392.4 2952.4,382.2 2941.3,386.1 2943.9,387.6 2939.5,391.2"/>
<polygon points="2941.5,474.6 2941.5,473.7 2943.7,474.6 2940.4,465.6 2937.1,474.6 2939.3,473.7 2939.3,474.6"/>
<polygon points="2940.9,556.8 2940.7,556.4 2941.9,556.3 2938.4,553.0 2938.9,557.7 2939.7,556.9 2939.9,557.2"/>
<polygon points="2941.3,640.4 2973.2,609.3 2974.3,612.1 2979.4,601.4 2968.6,606.2 2971.3,607.4 2939.5,638.4"/>
<polygon points="2941.2,722.9 2992.2,684.9 2993.0,687.7 2999.4,677.8 2988.1,681.1 2990.6,682.7 2939.6,720.7"/>
<polygon points="2941.5,805.0 2951.4,792.0 2953.0,794.5 2956.4,783.2 2946.4,789.5 2949.3,790.3 2939.3,803.4"/>
<polygon points="2941.2,885.5 2918.3,869.3 2920.8,867.6 2909.4,864.6 2916.0,874.4 2916.8,871.5 2939.6,887.7"/>
<polygon points="2940.7,967.7 2916.5,962.7 2918.1,960.2 2906.4,962.0 2916.4,968.3 2915.9,965.3 2940.1,970.3"/>
<circle cx="3022.8" cy="145.0" r="1.25"/>
<polygon points="3024.0,226.8 3019.5,217.7 3022.4,217.5 3013.8,209.4 3015.1,221.1 3017.1,218.9 3021.6,228.0"/>
<polygon points="3024.1,309.9 3025.3,295.9 3028.0,297.2 3024.8,285.8 3019.8,296.5 3022.6,295.6 3021.5,309.7"/>
<polygon points="3024.1,392.5 3028.7,374.2 3031.1,375.9 3029.8,364.2 3023.1,373.9 3026.1,373.6 3021.5,391.9"/>
<polygon points="3024.0,473.9 3018.8,464.7 3021.8,464.3 3012.8,456.6 3014.6,468.3 3016.5,466.0 3021.6,475.3"/>
<polygon points="3024.1,557.1 3024.7,543.0 3027.5,544.2 3023.8,533.0 3019.2,543.9 3022.0,542.9 3021.5,556.9"/>
<polygon points="3023.6,640.5 3059.4,615.3 3060.1,618.1 3066.8,608.4 3055.4,611.4 3057.9,613.1 3022.0,638.3"/>
<polygon points="3023.3,723.0 3073.2,701.1 3073.3,704.0 3081.8,695.8 3070.0,696.5 3072.1,698.6 3022.3,720.6"/>
<polygon points="3023.9,804.9 3042.7,774.4 3044.5,776.8 3046.8,765.2 3037.5,772.5 3040.4,773.0 3021.7,803.5"/>
<polygon points="3023.8,885.7 2991.7,851.9 2994.4,850.8 2983.8,845.6 2988.4,856.5 2989.7,853.8 3021.8,887.5"/>
<polygon points="3023.5,967.8 2984.0,944.0 2986.4,942.2 2974.8,940.0 2982.1,949.2 2982.7,946.3 3022.1,970.2"/>
<circle cx="3105.2" cy="145.0" r="1.25"/>
<polygon points="3106.5,227.2 3103.9,207.1 3106.7,207.8 3101.2,197.4 3098.6,208.9 3101.2,207.5 3103.9,227.6"/>
<polygon points="3106.5,309.7 3104.5,288.6 3107.4,289.4 3102.2,278.8 3099.2,290.2 3101.8,288.9 3103.9,309.9"/>
<polygon points="3106.2,391.3 3097.0,381.5 3099.8,380.4 3089.2,375.2 3093.8,386.1 3095.1,383.4 3104.2,393.1"/>
<polygon points="3105.7,474.4 3105.5,474.0 3106.7,473.9 3103.2,470.6 3103.7,475.3 3104.5,474.5 3104.7,474.8"/>
<polygon points="3106.1,558.0 3113.5,551.6 3114.5,554.4 3120.2,544.0 3109.1,548.1 3111.8,549.5 3104.3,556.0"/>
<polygon points="3105.8,639.2 3105.6,638.7 3107.1,638.7 3103.2,634.4 3103.3,640.1 3104.4,639.2 3104.6,639.6"/>
<polygon points="3105.8,723.0 3144.0,702.7 3144.4,705.6 3152.2,696.8 3140.5,698.4 3142.7,700.3 3104.6,720.6"/>
<polygon points="3105.6,805.5 3133.0,797.3 3132.8,800.3 3142.2,793.2 3130.4,792.4 3132.2,794.8 3104.8,802.9"/>
<polygon points="3105.8,885.4 3072.6,867.2 3074.9,865.3 3063.2,863.6 3070.9,872.5 3071.3,869.6 3104.6,887.8"/>
<polygon points="3105.4,967.7 3037.3,958.1 3038.7,955.5 3027.2,958.0 3037.6,963.6 3036.9,960.7 3105.0,970.3"/>
<circle cx="3187.6" cy="145.0" r="1.25"/>
<polygon points="3189.0,227.4 3189.0,215.4 3191.7,216.5 3187.6,205.4 3183.5,216.5 3186.3,215.4 3186.3,227.4"/>
<polygon points="3188.9,309.4 3186.2,301.8 3189.2,301.9 3181.6,292.8 3181.4,304.6 3183.7,302.7 3186.3,310.2"/>
<polygon points="3188.8,391.5 3178.6,373.3 3181.6,372.9 3172.6,365.2 3174.4,376.9 3176.3,374.6 3186.4,392.9"/>
<polygon points="3188.9,474.2 3186.2,466.6 3189.2,466.7 3181.6,457.6 3181.4,469.4 3183.7,467.5 3186.3,475.0"/>
<polygon points="3188.3,558.1 3196.9,552.6 3197.5,555.5 3204.6,546.0 3193.1,548.6 3195.5,550.3 3186.9,555.9"/>
<polygon points="3187.5,640.7 3208.5,642.1 3207.3,644.8 3218.6,641.4 3207.8,636.6 3208.7,639.4 3187.7,638.1"/>
<polygon points="3187.7,723.1 3221.7,721.6 3220.7,724.4 3231.6,719.8 3220.4,716.2 3221.6,718.9 3187.5,720.5"/>
<polygon points="3187.7,805.5 3201.8,804.4 3200.9,807.2 3211.6,802.2 3200.2,799.0 3201.5,801.7 3187.5,802.9"/>
<polygon points="3187.5,885.3 3176.5,885.8 3177.5,883.0 3166.6,887.6 3177.9,891.2 3176.6,888.5 3187.7,887.9"/>
<polygon points="3187.7,967.7 3113.7,963.2 3114.9,960.5 3103.6,964.0 3114.4,968.8 3113.5,965.9 3187.5,970.3"/>
<circle cx="3270.0" cy="145.0" r="1.25"/>
<polygon points="3271.2,227.4 3271.2,226.4 3273.7,227.4 3270.0,217.4 3266.3,227.4 3268.8,226.4 3268.8,227.4"/>
<circle cx="3270.0" cy="309.8" r="1.25"/>
<polygon points="3271.3,391.8 3268.4,383.3 3271.4,383.4 3264.0,374.2 3263.6,386.0 3265.9,384.1 3268.7,392.6"/>
<polygon points="3271.3,474.1 3266.7,461.5 3269.7,461.6 3262.0,452.6 3261.9,464.4 3264.1,462.4 3268.7,475.1"/>
<polygon points="3269.8,556.3 3269.2,556.5 3269.3,554.8 3264.0,559.0 3270.7,559.2 3269.7,557.9 3270.2,557.7"/>
<polygon points="3269.7,640.7 3293.9,645.7 3292.3,648.2 3304.0,646.4 3294.0,640.1 3294.5,643.1 3270.3,638.1"/>
<polygon points="3269.9,723.1 3305.9,726.3 3304.6,728.9 3316.0,725.8 3305.3,720.7 3306.2,723.6 3270.1,720.5"/>
<polygon points="3269.3,805.3 3287.8,817.0 3285.4,818.8 3297.0,821.2 3289.8,811.8 3289.3,814.7 3270.7,803.1"/>
<polygon points="3269.6,885.3 3257.1,889.3 3257.3,886.3 3248.0,893.6 3259.8,894.2 3257.9,891.9 3270.4,887.9"/>
<polygon points="3269.9,967.7 3206.9,972.0 3207.8,969.1 3197.0,974.0 3208.3,977.4 3207.1,974.7 3270.1,970.3"/>
<circle cx="3352.4" cy="145.0" r="1.25"/>
<circle cx="3352.4" cy="227.4" r="1.25"/>
<circle cx="3352.4" cy="309.8" r="1.25"/>
<circle cx="3352.4" cy="392.2" r="1.25"/>
<polygon points="3352.6,473.3 3335.5,470.7 3337.0,468.1 3325.4,470.6 3335.7,476.3 3335.1,473.4 3352.2,475.9"/>
<circle cx="3352.4" cy="557.0" r="1.25"/>
<polygon points="3352.3,639.9 3352.7,640.0 3352.0,640.9 3356.4,640.4 3352.8,637.9 3352.9,639.0 3352.5,638.9"/>
<polygon points="3353.1,722.9 3374.8,708.5 3375.5,711.4 3382.4,701.8 3370.9,704.5 3373.3,706.2 3351.7,720.7"/>
<circle cx="3352.4" cy="804.2" r="1.25"/>
<polygon points="3351.3,885.8 3343.9,896.6 3342.3,894.1 3339.4,905.6 3349.0,898.8 3346.2,898.1 3353.5,887.4"/>
<polygon points="3352.2,967.7 3299.1,975.3 3299.8,972.4 3289.4,978.0 3300.9,980.5 3299.5,977.9 3352.6,970.3"/>
</g>
<rect x="2657.0" y="622.3" width="171.2" height="93.9" fill="none" stroke="#000" stroke-width="6.2" stroke-linejoin="round"/>
<path d="M2165.4 935.4H2286.9" stroke="#000" stroke-width="5.5"/>
<path d="M2165.4 929V942.4M2286.9 929V942.4" stroke="#000" stroke-width="4.4"/>
<text x="2155.1" y="993.5" font-size="49" >500 km</text>
</g>
<rect x="2034.0" y="145.0" width="1318.5" height="879.0" fill="none" stroke="#000" stroke-width="3"/>
<path d="M2034.0 1024.0v11M2473.5 1024.0v11M2913.0 1024.0v11M3352.5 1024.0v11M2034.0 1024.0h-11M2034.0 804.2h-11M2034.0 584.5h-11M2034.0 364.8h-11M2034.0 145.0h-11" stroke="#000" stroke-width="2.6" fill="none"/>
<text x="154.3" y="170.6" text-anchor="end" font-size="67.5">55°</text>
<text transform="translate(161.3,170.6) scale(0.9,1)" font-size="67.5">N</text>
<text x="154.3" y="389.0" text-anchor="end" font-size="67.5">45°</text>
<text transform="translate(161.3,389.0) scale(0.9,1)" font-size="67.5">N</text>
<text x="154.3" y="607.4" text-anchor="end" font-size="67.5">35°</text>
<text transform="translate(161.3,607.4) scale(0.9,1)" font-size="67.5">N</text>
<text x="154.3" y="825.8" text-anchor="end" font-size="67.5">25°</text>
<text transform="translate(161.3,825.8) scale(0.9,1)" font-size="67.5">N</text>
<text x="154.3" y="1044.2" text-anchor="end" font-size="67.5">15°</text>
<text transform="translate(161.3,1044.2) scale(0.9,1)" font-size="67.5">N</text>
<text x="268.5" y="1127.5" text-anchor="middle" font-size="67.5">80°<tspan dx="4">E</tspan></text>
<text x="695.8" y="1127.5" text-anchor="middle" font-size="67.5">100°<tspan dx="2">E</tspan></text>
<text x="1135.3" y="1127.5" text-anchor="middle" font-size="67.5">120°<tspan dx="2">E</tspan></text>
<text x="1574.8" y="1127.5" text-anchor="middle" font-size="67.5">140°<tspan dx="2">E</tspan></text>
<text x="1940.8" y="170.6" text-anchor="end" font-size="67.5">55°</text>
<text transform="translate(1947.8,170.6) scale(0.9,1)" font-size="67.5">N</text>
<text x="1940.8" y="389.0" text-anchor="end" font-size="67.5">45°</text>
<text transform="translate(1947.8,389.0) scale(0.9,1)" font-size="67.5">N</text>
<text x="1940.8" y="607.4" text-anchor="end" font-size="67.5">35°</text>
<text transform="translate(1947.8,607.4) scale(0.9,1)" font-size="67.5">N</text>
<text x="1940.8" y="825.8" text-anchor="end" font-size="67.5">25°</text>
<text transform="translate(1947.8,825.8) scale(0.9,1)" font-size="67.5">N</text>
<text x="1940.8" y="1044.2" text-anchor="end" font-size="67.5">15°</text>
<text transform="translate(1947.8,1044.2) scale(0.9,1)" font-size="67.5">N</text>
<text x="2055.0" y="1127.5" text-anchor="middle" font-size="67.5">80°<tspan dx="4">E</tspan></text>
<text x="2482.3" y="1127.5" text-anchor="middle" font-size="67.5">100°<tspan dx="2">E</tspan></text>
<text x="2921.8" y="1127.5" text-anchor="middle" font-size="67.5">120°<tspan dx="2">E</tspan></text>
<text x="3361.3" y="1127.5" text-anchor="middle" font-size="67.5">140°<tspan dx="2">E</tspan></text>
<text x="861.6" y="75.2" font-size="68">(</text>
<text transform="translate(900.2,83.6) scale(1.16,1)" font-size="59.5">a</text>
<text x="945.6" y="75.2" font-size="68">)</text>
<text x="2659.1" y="75.2" font-size="68">(</text>
<text transform="translate(2697.6,83.6) scale(0.98,1)" font-size="68">b</text>
<text x="2746.5" y="75.2" font-size="68">)</text>
<g fill="#000"><polygon points="2719.0,1191.9 2742.6,1191.9 2741.7,1194.4 2751.5,1190.7 2741.7,1187.0 2742.6,1189.5 2719.0,1189.5"/></g>
<text x="2775.8" y="1215.2" font-size="67.5">10</text>
<text x="2842.5" y="1192.8" font-size="39">4</text>
<text x="2877.8" y="1215.2" font-size="67.5">g</text>
<text x="2947.8" y="1215.2" font-size="67.5">cm</text>
<text x="3025.4" y="1191.8" font-size="39" letter-spacing="-5">−1</text>
<text x="3111.2" y="1215.2" font-size="67.5">hPa</text>
<text x="3210.7" y="1191.8" font-size="39" letter-spacing="-5">−1</text>
<text x="3295.3" y="1215.2" font-size="67.5">s</text>
<text x="3328.2" y="1191.8" font-size="39" letter-spacing="-5">−1</text>
<circle cx="2927.8" cy="1192.8" r="6" fill="#000"/>
<circle cx="3091.3" cy="1192.8" r="6" fill="#000"/>
<circle cx="3276.2" cy="1192.8" r="6" fill="#000"/>
<polygon points="622,1320.25 723.5,1291.5 890.6,1291.5 890.6,1349 723.5,1349" fill="#011070"/>
<rect x="890.0" y="1291.5" width="167.1" height="57.5" fill="#2060d8"/>
<rect x="1056.5" y="1291.5" width="167.1" height="57.5" fill="#3f9bd9"/>
<rect x="1223.0" y="1291.5" width="167.1" height="57.5" fill="#75cfe0"/>
<rect x="1389.5" y="1291.5" width="167.1" height="57.5" fill="#ade8eb"/>
<rect x="1556.0" y="1291.5" width="167.1" height="57.5" fill="#dff2f6"/>
<rect x="1722.5" y="1291.5" width="167.1" height="57.5" fill="#fae3e4"/>
<rect x="1889.0" y="1291.5" width="167.1" height="57.5" fill="#f8b1b0"/>
<rect x="2055.5" y="1291.5" width="167.1" height="57.5" fill="#ea787d"/>
<rect x="2222.0" y="1291.5" width="167.1" height="57.5" fill="#c8354f"/>
<rect x="2388.5" y="1291.5" width="167.1" height="57.5" fill="#960014"/>
<polygon points="2555.0,1291.5 2721.5,1291.5 2824,1320.25 2721.5,1349 2555.0,1349" fill="#460014"/>
<polygon points="622,1320.25 723.5,1291.5 2721.5,1291.5 2824,1320.25 2721.5,1349 723.5,1349" fill="none" stroke="#000" stroke-width="2.2" stroke-linejoin="miter"/>
<path d="M723.5 1349v13M890.0 1349v8M1056.5 1349v13M1223.0 1349v8M1389.5 1349v13M1556.0 1349v8M1722.5 1349v13M1889.0 1349v8M2055.5 1349v13M2222.0 1349v8M2388.5 1349v13M2555.0 1349v8M2721.5 1349v13" stroke="#000" stroke-width="2.4" fill="none"/>
<text x="698.5" y="1441" text-anchor="middle" font-size="65">−15.8</text>
<text x="1028" y="1441" text-anchor="middle" font-size="65">−10.5</text>
<text x="1375.5" y="1441" text-anchor="middle" font-size="65">−5.3</text>
<text x="1722.5" y="1441" text-anchor="middle" font-size="65">0</text>
<text x="2056" y="1441" text-anchor="middle" font-size="65">5.3</text>
<text x="2387.5" y="1441" text-anchor="middle" font-size="65">10.5</text>
<text x="2718" y="1441" text-anchor="middle" font-size="65">15.8</text>
</svg>
</body></html>
